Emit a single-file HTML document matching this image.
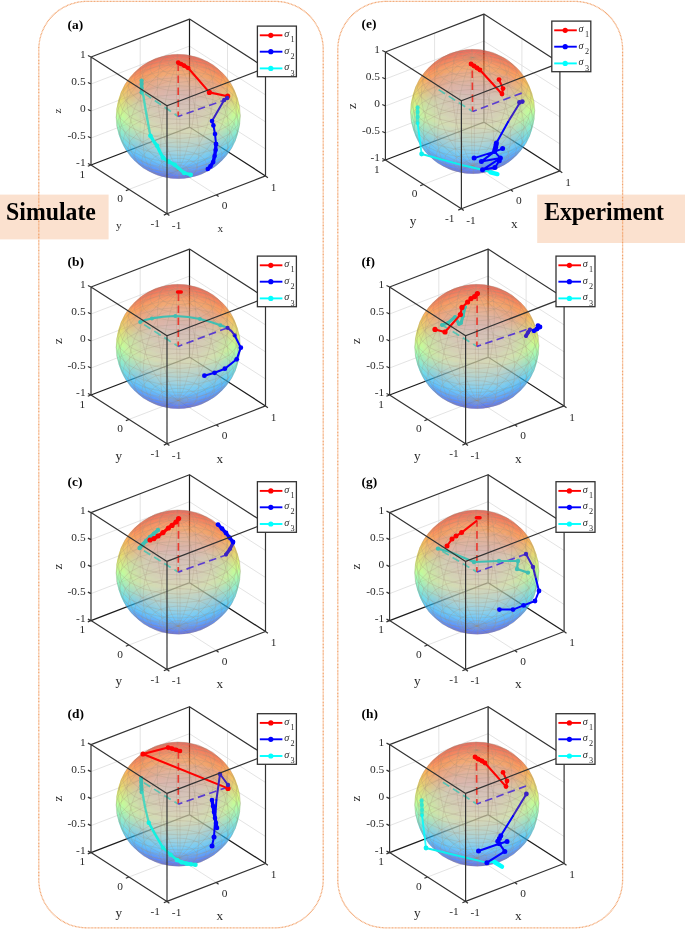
<!DOCTYPE html>
<html><head><meta charset="utf-8"><title>Bloch spheres</title>
<style>html,body{margin:0;padding:0;background:#fff;}body{width:685px;height:929px;overflow:hidden;font-family:"Liberation Serif",serif;}svg{display:block}text{font-family:"Liberation Serif",serif}</style></head>
<body>
<svg width="685" height="929" viewBox="0 0 685 929" font-family="Liberation Serif">
<defs><clipPath id="cp"><circle cx="87.2" cy="59.5" r="62.2"/></clipPath><filter id="bl" x="-10%" y="-10%" width="120%" height="120%"><feGaussianBlur stdDeviation="0.9"/></filter><radialGradient id="wg" gradientUnits="userSpaceOnUse" cx="87.2" cy="59.5" r="62.2"><stop offset="0" stop-color="#fff" stop-opacity="0.36"/><stop offset="0.55" stop-color="#fff" stop-opacity="0.27"/><stop offset="0.97" stop-color="#fff" stop-opacity="0"/></radialGradient><g id="sph"><g clip-path="url(#cp)"><g filter="url(#bl)" fill-opacity="0.42"><path d="M102.9 62.5L85.6 61.4L85.6 56.3L103.6 57.4Z" fill="#0085ff"/><path d="M102.1 67.6L85.7 66.5L85.6 61.4L102.9 62.5Z" fill="#0063ff"/><path d="M103.6 57.4L85.6 56.3L85.5 51.2L104.2 52.4Z" fill="#00a9ff"/><path d="M85.6 61.4L68.5 63.1L67.7 58L85.6 56.3Z" fill="#0085ff"/><path d="M85.7 66.5L69.5 68.1L68.5 63.1L85.6 61.4Z" fill="#0063ff"/><path d="M101.2 72.6L85.8 71.6L85.7 66.5L102.1 67.6Z" fill="#0043ff"/><path d="M85.6 56.3L67.7 58L67 53L85.5 51.2Z" fill="#00a9ff"/><path d="M85.8 71.6L70.5 73.1L69.5 68.1L85.7 66.5Z" fill="#0043ff"/><path d="M104.2 52.4L85.5 51.2L85.5 46.1L104.7 47.3Z" fill="#00ceff"/><path d="M100.2 77.5L85.9 76.6L85.8 71.6L101.2 72.6Z" fill="#0025ff"/><path d="M85.5 51.2L67 53L66.4 48L85.5 46.1Z" fill="#00ceff"/><path d="M85.9 76.6L71.7 78L70.5 73.1L85.8 71.6Z" fill="#0025ff"/><path d="M104.7 47.3L85.5 46.1L85.4 41.2L105.1 42.4Z" fill="#00f4ff"/><path d="M85.5 46.1L66.4 48L65.9 43L85.4 41.2Z" fill="#00f4ff"/><path d="M99.2 82.3L86 81.5L85.9 76.6L100.2 77.5Z" fill="#0008ff"/><path d="M86 81.5L73 82.7L71.7 78L85.9 76.6Z" fill="#0008ff"/><path d="M105.1 42.4L85.4 41.2L85.4 36.3L105.4 37.5Z" fill="#1cffe3"/><path d="M85.4 41.2L65.9 43L65.6 38.2L85.4 36.3Z" fill="#1cffe3"/><path d="M117.1 71.1L102.1 67.6L102.9 62.5L118.7 66.2Z" fill="#0063ff"/><path d="M118.7 66.2L102.9 62.5L103.6 57.4L120.1 61.3Z" fill="#0085ff"/><path d="M98.1 87L86.1 86.3L86 81.5L99.2 82.3Z" fill="#0000ed"/><path d="M115.3 75.9L101.2 72.6L102.1 67.6L117.1 71.1Z" fill="#0043ff"/><path d="M86.1 86.3L74.3 87.4L73 82.7L86 81.5Z" fill="#0000ed"/><path d="M120.1 61.3L103.6 57.4L104.2 52.4L121.3 56.4Z" fill="#00a9ff"/><path d="M113.3 80.6L100.2 77.5L101.2 72.6L115.3 75.9Z" fill="#0025ff"/><path d="M69.5 68.1L55 72.1L53.2 67.2L68.5 63.1Z" fill="#0063ff"/><path d="M105.4 37.5L85.4 36.3L85.4 31.6L105.6 32.8Z" fill="#44ffbb"/><path d="M68.5 63.1L53.2 67.2L51.7 62.4L67.7 58Z" fill="#0085ff"/><path d="M70.5 73.1L56.9 76.8L55 72.1L69.5 68.1Z" fill="#0043ff"/><path d="M121.3 56.4L104.2 52.4L104.7 47.3L122.3 51.4Z" fill="#00ceff"/><path d="M85.4 36.3L65.6 38.2L65.4 33.5L85.4 31.6Z" fill="#44ffbb"/><path d="M67.7 58L51.7 62.4L50.4 57.5L67 53Z" fill="#00a9ff"/><path d="M71.7 78L59 81.4L56.9 76.8L70.5 73.1Z" fill="#0025ff"/><path d="M111.2 85.1L99.2 82.3L100.2 77.5L113.3 80.6Z" fill="#0008ff"/><path d="M96.9 91.5L86.3 90.9L86.1 86.3L98.1 87Z" fill="#0000e6"/><path d="M86.3 90.9L75.8 91.9L74.3 87.4L86.1 86.3Z" fill="#0000e6"/><path d="M122.3 51.4L104.7 47.3L105.1 42.4L123.1 46.6Z" fill="#00f4ff"/><path d="M67 53L50.4 57.5L49.3 52.6L66.4 48Z" fill="#00ceff"/><path d="M73 82.7L61.3 85.9L59 81.4L71.7 78Z" fill="#0008ff"/><path d="M108.9 89.5L98.1 87L99.2 82.3L111.2 85.1Z" fill="#0000ed"/><path d="M105.6 32.8L85.4 31.6L85.4 27L105.6 28.3Z" fill="#6bff94"/><path d="M85.4 31.6L65.4 33.5L65.3 28.9L85.4 27Z" fill="#6bff94"/><path d="M66.4 48L49.3 52.6L48.5 47.8L65.9 43Z" fill="#00f4ff"/><path d="M74.3 87.4L63.8 90.3L61.3 85.9L73 82.7Z" fill="#0000ed"/><path d="M123.1 46.6L105.1 42.4L105.4 37.5L123.6 41.8Z" fill="#1cffe3"/><path d="M95.6 95.8L86.4 95.3L86.3 90.9L96.9 91.5Z" fill="#0000e6"/><path d="M86.4 95.3L77.3 96.1L75.8 91.9L86.3 90.9Z" fill="#0000e6"/><path d="M106.5 93.8L96.9 91.5L98.1 87L108.9 89.5Z" fill="#0000e6"/><path d="M65.9 43L48.5 47.8L47.8 43L65.6 38.2Z" fill="#1cffe3"/><path d="M75.8 91.9L66.4 94.4L63.8 90.3L74.3 87.4Z" fill="#0000e6"/><path d="M105.6 28.3L85.4 27L85.4 22.7L105.6 23.9Z" fill="#94ff6b"/><path d="M123.6 41.8L105.4 37.5L105.6 32.8L124 37.1Z" fill="#44ffbb"/><path d="M85.4 27L65.3 28.9L65.4 24.6L85.4 22.7Z" fill="#94ff6b"/><path d="M104 97.8L95.6 95.8L96.9 91.5L106.5 93.8Z" fill="#0000e6"/><path d="M94.3 99.9L86.5 99.4L86.4 95.3L95.6 95.8Z" fill="#0000e6"/><path d="M86.5 99.4L78.8 100.2L77.3 96.1L86.4 95.3Z" fill="#0000e6"/><path d="M65.6 38.2L47.8 43L47.5 38.4L65.4 33.5Z" fill="#44ffbb"/><path d="M77.3 96.1L69.1 98.3L66.4 94.4L75.8 91.9Z" fill="#0000e6"/><path d="M126.6 81.1L115.3 75.9L117.1 71.1L129.1 76.7Z" fill="#0043ff"/><path d="M123.8 85.5L113.3 80.6L115.3 75.9L126.6 81.1Z" fill="#0025ff"/><path d="M129.1 76.7L117.1 71.1L118.7 66.2L131.3 72.1Z" fill="#0063ff"/><path d="M124 37.1L105.6 32.8L105.6 28.3L124.1 32.6Z" fill="#6bff94"/><path d="M120.8 89.6L111.2 85.1L113.3 80.6L123.8 85.5Z" fill="#0008ff"/><path d="M131.3 72.1L118.7 66.2L120.1 61.3L133.3 67.5Z" fill="#0085ff"/><path d="M105.6 23.9L85.4 22.7L85.4 18.6L105.4 19.8Z" fill="#bbff44"/><path d="M101.4 101.6L94.3 99.9L95.6 95.8L104 97.8Z" fill="#0000e6"/><path d="M117.6 93.6L108.9 89.5L111.2 85.1L120.8 89.6Z" fill="#0000ed"/><path d="M85.4 22.7L65.4 24.6L65.6 20.4L85.4 18.6Z" fill="#bbff44"/><path d="M133.3 67.5L120.1 61.3L121.3 56.4L135 62.8Z" fill="#00a9ff"/><path d="M56.9 76.8L46.2 82.4L43.6 78L55 72.1Z" fill="#0043ff"/><path d="M59 81.4L49.1 86.7L46.2 82.4L56.9 76.8Z" fill="#0025ff"/><path d="M65.4 33.5L47.5 38.4L47.4 33.8L65.3 28.9Z" fill="#6bff94"/><path d="M78.8 100.2L72 102L69.1 98.3L77.3 96.1Z" fill="#0000e6"/><path d="M55 72.1L43.6 78L41.3 73.5L53.2 67.2Z" fill="#0063ff"/><path d="M61.3 85.9L52.2 90.7L49.1 86.7L59 81.4Z" fill="#0008ff"/><path d="M92.9 103.7L86.7 103.4L86.5 99.4L94.3 99.9Z" fill="#0000e6"/><path d="M114.3 97.4L106.5 93.8L108.9 89.5L117.6 93.6Z" fill="#0000e6"/><path d="M86.7 103.4L80.5 103.9L78.8 100.2L86.5 99.4Z" fill="#0000e6"/><path d="M53.2 67.2L41.3 73.5L39.2 69L51.7 62.4Z" fill="#0085ff"/><path d="M63.8 90.3L55.6 94.6L52.2 90.7L61.3 85.9Z" fill="#0000ed"/><path d="M135 62.8L121.3 56.4L122.3 51.4L136.4 58Z" fill="#00ceff"/><path d="M124.1 32.6L105.6 28.3L105.6 23.9L124 28.2Z" fill="#94ff6b"/><path d="M51.7 62.4L39.2 69L37.4 64.3L50.4 57.5Z" fill="#00a9ff"/><path d="M66.4 94.4L59.1 98.3L55.6 94.6L63.8 90.3Z" fill="#0000e6"/><path d="M110.7 100.9L104 97.8L106.5 93.8L114.3 97.4Z" fill="#0000e6"/><path d="M98.6 105.1L92.9 103.7L94.3 99.9L101.4 101.6Z" fill="#0000e6"/><path d="M105.4 19.8L85.4 18.6L85.4 14.7L105.1 15.9Z" fill="#e3ff1c"/><path d="M136.4 58L122.3 51.4L123.1 46.6L137.5 53.3Z" fill="#00f4ff"/><path d="M65.3 28.9L47.4 33.8L47.5 29.5L65.4 24.6Z" fill="#94ff6b"/><path d="M80.5 103.9L74.9 105.5L72 102L78.8 100.2Z" fill="#0000e6"/><path d="M85.4 18.6L65.6 20.4L65.9 16.5L85.4 14.7Z" fill="#e3ff1c"/><path d="M50.4 57.5L37.4 64.3L36 59.6L49.3 52.6Z" fill="#00ceff"/><path d="M69.1 98.3L62.8 101.7L59.1 98.3L66.4 94.4Z" fill="#0000e6"/><path d="M107 104.2L101.4 101.6L104 97.8L110.7 100.9Z" fill="#0000e6"/><path d="M91.5 107.3L86.8 107L86.7 103.4L92.9 103.7Z" fill="#0000e6"/><path d="M86.8 107L82.1 107.5L80.5 103.9L86.7 103.4Z" fill="#0000e6"/><path d="M124 28.2L105.6 23.9L105.4 19.8L123.6 24.1Z" fill="#bbff44"/><path d="M137.5 53.3L123.1 46.6L123.6 41.8L138.3 48.7Z" fill="#1cffe3"/><path d="M49.3 52.6L36 59.6L34.8 55L48.5 47.8Z" fill="#00f4ff"/><path d="M72 102L66.6 104.9L62.8 101.7L69.1 98.3Z" fill="#0000e6"/><path d="M95.9 108.3L91.5 107.3L92.9 103.7L98.6 105.1Z" fill="#0000e6"/><path d="M65.4 24.6L47.5 29.5L47.8 25.3L65.6 20.4Z" fill="#bbff44"/><path d="M82.1 107.5L77.9 108.6L74.9 105.5L80.5 103.9Z" fill="#0000e6"/><path d="M103.2 107.2L98.6 105.1L101.4 101.6L107 104.2Z" fill="#0000e6"/><path d="M105.1 15.9L85.4 14.7L85.5 11.1L104.7 12.3Z" fill="#fff400"/><path d="M48.5 47.8L34.8 55L34 50.3L47.8 43Z" fill="#1cffe3"/><path d="M138.3 48.7L123.6 41.8L124 37.1L138.8 44.1Z" fill="#44ffbb"/><path d="M85.4 14.7L65.9 16.5L66.4 12.9L85.5 11.1Z" fill="#fff400"/><path d="M74.9 105.5L70.6 107.7L66.6 104.9L72 102Z" fill="#0000e6"/><path d="M123.6 24.1L105.4 19.8L105.1 15.9L123.1 20.1Z" fill="#e3ff1c"/><path d="M90.1 110.6L87 110.4L86.8 107L91.5 107.3Z" fill="#0000e6"/><path d="M87 110.4L83.8 110.7L82.1 107.5L86.8 107Z" fill="#0000e6"/><path d="M99.3 109.9L95.9 108.3L98.6 105.1L103.2 107.2Z" fill="#0000e6"/><path d="M123.4 98.9L117.6 93.6L120.8 89.6L127.2 95.4Z" fill="#0000ed"/><path d="M127.2 95.4L120.8 89.6L123.8 85.5L130.7 91.8Z" fill="#0008ff"/><path d="M47.8 43L34 50.3L33.5 45.7L47.5 38.4Z" fill="#44ffbb"/><path d="M119.4 102L114.3 97.4L117.6 93.6L123.4 98.9Z" fill="#0000e6"/><path d="M77.9 108.6L74.7 110.3L70.6 107.7L74.9 105.5Z" fill="#0000e6"/><path d="M93 111.3L90.1 110.6L91.5 107.3L95.9 108.3Z" fill="#0000e6"/><path d="M65.6 20.4L47.8 25.3L48.5 21.3L65.9 16.5Z" fill="#e3ff1c"/><path d="M138.8 44.1L124 37.1L124.1 32.6L139 39.6Z" fill="#6bff94"/><path d="M130.7 91.8L123.8 85.5L126.6 81.1L134 87.9Z" fill="#0025ff"/><path d="M83.8 110.7L81 111.4L77.9 108.6L82.1 107.5Z" fill="#0000e6"/><path d="M115.2 105L110.7 100.9L114.3 97.4L119.4 102Z" fill="#0000e6"/><path d="M134 87.9L126.6 81.1L129.1 76.7L137 83.9Z" fill="#0043ff"/><path d="M110.8 107.6L107 104.2L110.7 100.9L115.2 105Z" fill="#0000e6"/><path d="M104.7 12.3L85.5 11.1L85.5 7.8L104.2 9Z" fill="#ffce00"/><path d="M55.6 94.6L50.4 100L46.5 96.7L52.2 90.7Z" fill="#0000ed"/><path d="M59.1 98.3L54.5 103.1L50.4 100L55.6 94.6Z" fill="#0000e6"/><path d="M137 83.9L129.1 76.7L131.3 72.1L139.7 79.7Z" fill="#0063ff"/><path d="M52.2 90.7L46.5 96.7L42.9 93.2L49.1 86.7Z" fill="#0008ff"/><path d="M62.8 101.7L58.8 105.9L54.5 103.1L59.1 98.3Z" fill="#0000e6"/><path d="M85.5 11.1L66.4 12.9L67 9.6L85.5 7.8Z" fill="#ffce00"/><path d="M95.3 112.3L93 111.3L95.9 108.3L99.3 109.9Z" fill="#0000e6"/><path d="M106.3 110L103.2 107.2L107 104.2L110.8 107.6Z" fill="#0000e6"/><path d="M49.1 86.7L42.9 93.2L39.6 89.4L46.2 82.4Z" fill="#0025ff"/><path d="M66.6 104.9L63.3 108.4L58.8 105.9L62.8 101.7Z" fill="#0000e6"/><path d="M47.5 38.4L33.5 45.7L33.3 41.2L47.4 33.8Z" fill="#6bff94"/><path d="M123.1 20.1L105.1 15.9L104.7 12.3L122.3 16.4Z" fill="#fff400"/><path d="M81 111.4L78.8 112.6L74.7 110.3L77.9 108.6Z" fill="#0000e6"/><path d="M139.7 79.7L131.3 72.1L133.3 67.5L142.1 75.4Z" fill="#0085ff"/><path d="M139 39.6L124.1 32.6L124 28.2L138.8 35.2Z" fill="#94ff6b"/><path d="M46.2 82.4L39.6 89.4L36.5 85.5L43.6 78Z" fill="#0043ff"/><path d="M70.6 107.7L67.9 110.6L63.3 108.4L66.6 104.9Z" fill="#0000e6"/><path d="M88.7 113.5L87.1 113.4L87 110.4L90.1 110.6Z" fill="#0000e6"/><path d="M87.1 113.4L85.5 113.6L83.8 110.7L87 110.4Z" fill="#0000e6"/><path d="M101.6 112L99.3 109.9L103.2 107.2L106.3 110Z" fill="#0000e6"/><path d="M65.9 16.5L48.5 21.3L49.3 17.6L66.4 12.9Z" fill="#fff400"/><path d="M90.1 113.9L88.7 113.5L90.1 110.6L93 111.3Z" fill="#0000e6"/><path d="M85.5 113.6L84.1 114L81 111.4L83.8 110.7Z" fill="#0000e6"/><path d="M43.6 78L36.5 85.5L33.8 81.4L41.3 73.5Z" fill="#0063ff"/><path d="M74.7 110.3L72.6 112.5L67.9 110.6L70.6 107.7Z" fill="#0000e6"/><path d="M142.1 75.4L133.3 67.5L135 62.8L144.1 71Z" fill="#00a9ff"/><path d="M96.9 113.7L95.3 112.3L99.3 109.9L101.6 112Z" fill="#0000e6"/><path d="M91.3 114.4L90.1 113.9L93 111.3L95.3 112.3Z" fill="#0000e6"/><path d="M47.4 33.8L33.3 41.2L33.5 36.8L47.5 29.5Z" fill="#94ff6b"/><path d="M84.1 114L83 114.5L78.8 112.6L81 111.4Z" fill="#0000e6"/><path d="M41.3 73.5L33.8 81.4L31.4 77.1L39.2 69Z" fill="#0085ff"/><path d="M78.8 112.6L77.4 114L72.6 112.5L74.7 110.3Z" fill="#0000e6"/><path d="M104.2 9L85.5 7.8L85.6 4.8L103.6 5.9Z" fill="#ffa900"/><path d="M138.8 35.2L124 28.2L123.6 24.1L138.3 30.9Z" fill="#bbff44"/><path d="M144.1 71L135 62.8L136.4 58L145.8 66.5Z" fill="#00ceff"/><path d="M85.5 7.8L67 9.6L67.7 6.5L85.6 4.8Z" fill="#ffa900"/><path d="M122.3 16.4L104.7 12.3L104.2 9L121.3 13Z" fill="#ffce00"/><path d="M92.1 115.1L91.3 114.4L95.3 112.3L96.9 113.7Z" fill="#0000e6"/><path d="M39.2 69L31.4 77.1L29.3 72.8L37.4 64.3Z" fill="#00a9ff"/><path d="M83 114.5L82.3 115.3L77.4 114L78.8 112.6Z" fill="#0000e6"/><path d="M87.2 116.2L87.1 113.4L88.7 113.5Z" fill="#0000e6"/><path d="M87.2 116.2L85.5 113.6L87.1 113.4Z" fill="#0000e6"/><path d="M66.4 12.9L49.3 17.6L50.4 14.1L67 9.6Z" fill="#ffce00"/><path d="M87.2 116.2L88.7 113.5L90.1 113.9Z" fill="#0000e6"/><path d="M87.2 116.2L84.1 114L85.5 113.6Z" fill="#0000e6"/><path d="M145.8 66.5L136.4 58L137.5 53.3L147.1 62Z" fill="#00f4ff"/><path d="M47.5 29.5L33.5 36.8L34 32.6L47.8 25.3Z" fill="#bbff44"/><path d="M87.2 116.2L90.1 113.9L91.3 114.4Z" fill="#0000e6"/><path d="M102.5 114.3L101.6 112L106.3 110L107.4 113.1Z" fill="#0000e6"/><path d="M107.4 113.1L106.3 110L110.8 107.6L112.2 111.4Z" fill="#0000e6"/><path d="M87.2 116.2L83 114.5L84.1 114Z" fill="#0000e6"/><path d="M97.5 115.3L96.9 113.7L101.6 112L102.5 114.3Z" fill="#0000e6"/><path d="M112.2 111.4L110.8 107.6L115.2 105L116.9 109.5Z" fill="#0000e6"/><path d="M37.4 64.3L29.3 72.8L27.6 68.4L36 59.6Z" fill="#00ceff"/><path d="M87.2 116.2L91.3 114.4L92.1 115.1Z" fill="#0000e6"/><path d="M92.4 115.9L92.1 115.1L96.9 113.7L97.5 115.3Z" fill="#0000e6"/><path d="M87.2 116.2L82.3 115.3L83 114.5Z" fill="#0000e6"/><path d="M116.9 109.5L115.2 105L119.4 102L121.4 107.3Z" fill="#0000e6"/><path d="M77.4 114L77 115.6L72 114.8L72.6 112.5Z" fill="#0000e6"/><path d="M72.6 112.5L72 114.8L67.1 113.7L67.9 110.6Z" fill="#0000e6"/><path d="M138.3 30.9L123.6 24.1L123.1 20.1L137.5 26.9Z" fill="#e3ff1c"/><path d="M82.3 115.3L82.1 116.1L77 115.6L77.4 114Z" fill="#0000e6"/><path d="M67.9 110.6L67.1 113.7L62.3 112.2L63.3 108.4Z" fill="#0000e6"/><path d="M87.2 116.2L92.1 115.1L92.4 115.9Z" fill="#0000e6"/><path d="M87.2 116.2L82.1 116.1L82.3 115.3Z" fill="#0000e6"/><path d="M121.4 107.3L119.4 102L123.4 98.9L125.6 104.7Z" fill="#0000e6"/><path d="M63.3 108.4L62.3 112.2L57.6 110.4L58.8 105.9Z" fill="#0000e6"/><path d="M147.1 62L137.5 53.3L138.3 48.7L148 57.4Z" fill="#1cffe3"/><path d="M103.6 5.9L85.6 4.8L85.6 2.2L102.9 3.3Z" fill="#ff8500"/><path d="M87.2 116.2L92.4 115.9L92.2 116.7Z" fill="#0000e6"/><path d="M87.2 116.2L82.4 116.8L82.1 116.1Z" fill="#0000e6"/><path d="M121.3 13L104.2 9L103.6 5.9L120.1 9.8Z" fill="#ffa900"/><path d="M58.8 105.9L57.6 110.4L53.1 108.3L54.5 103.1Z" fill="#0000e6"/><path d="M36 59.6L27.6 68.4L26.3 63.9L34.8 55Z" fill="#00f4ff"/><path d="M85.6 4.8L67.7 6.5L68.5 3.8L85.6 2.2Z" fill="#ff8500"/><path d="M125.6 104.7L123.4 98.9L127.2 95.4L129.7 101.9Z" fill="#0000ed"/><path d="M87.2 116.2L92.2 116.7L91.5 117.4Z" fill="#0000e6"/><path d="M87.2 116.2L83.2 117.5L82.4 116.8Z" fill="#0000e6"/><path d="M92.2 116.7L92.4 115.9L97.5 115.3L97.1 116.9Z" fill="#0000e6"/><path d="M47.8 25.3L34 32.6L34.8 28.5L48.5 21.3Z" fill="#e3ff1c"/><path d="M82.1 116.1L82.4 116.8L77.6 117.2L77 115.6Z" fill="#0000e6"/><path d="M54.5 103.1L53.1 108.3L48.9 105.9L50.4 100Z" fill="#0000e6"/><path d="M87.2 116.2L91.5 117.4L90.4 118Z" fill="#0000e6"/><path d="M87.2 116.2L84.4 118.1L83.2 117.5Z" fill="#0000e6"/><path d="M67 9.6L50.4 14.1L51.7 10.9L67.7 6.5Z" fill="#ffa900"/><path d="M129.7 101.9L127.2 95.4L130.7 91.8L133.4 98.8Z" fill="#0008ff"/><path d="M87.2 116.2L90.4 118L89 118.4Z" fill="#0000e6"/><path d="M87.2 116.2L85.8 118.4L84.4 118.1Z" fill="#0000e6"/><path d="M97.1 116.9L97.5 115.3L102.5 114.3L101.9 116.7Z" fill="#0000e6"/><path d="M87.2 116.2L89 118.4L87.4 118.5Z" fill="#0000e6"/><path d="M87.2 116.2L87.4 118.5L85.8 118.4Z" fill="#0000e6"/><path d="M148 57.4L138.3 48.7L138.8 44.1L148.6 52.9Z" fill="#44ffbb"/><path d="M50.4 100L48.9 105.9L44.8 103.2L46.5 96.7Z" fill="#0000ed"/><path d="M137.5 26.9L123.1 20.1L122.3 16.4L136.4 23Z" fill="#fff400"/><path d="M77 115.6L77.6 117.2L72.9 117.2L72 114.8Z" fill="#0000e6"/><path d="M34.8 55L26.3 63.9L25.3 59.4L34 50.3Z" fill="#1cffe3"/><path d="M133.4 98.8L130.7 91.8L134 87.9L136.9 95.5Z" fill="#0025ff"/><path d="M91.5 117.4L92.2 116.7L97.1 116.9L95.7 118.3Z" fill="#0000e6"/><path d="M101.9 116.7L102.5 114.3L107.4 113.1L106.6 116.2Z" fill="#0000e6"/><path d="M82.4 116.8L83.2 117.5L79.2 118.6L77.6 117.2Z" fill="#0000e6"/><path d="M46.5 96.7L44.8 103.2L41.1 100.3L42.9 93.2Z" fill="#0008ff"/><path d="M72 114.8L72.9 117.2L68.2 116.8L67.1 113.7Z" fill="#0000e6"/><path d="M136.9 95.5L134 87.9L137 83.9L140.1 91.9Z" fill="#0043ff"/><path d="M48.5 21.3L34.8 28.5L36 24.6L49.3 17.6Z" fill="#fff400"/><path d="M106.6 116.2L107.4 113.1L112.2 111.4L111.2 115.3Z" fill="#0000e6"/><path d="M120.1 9.8L103.6 5.9L102.9 3.3L118.7 6.9Z" fill="#ff8500"/><path d="M148.6 52.9L138.8 44.1L139 39.6L148.8 48.4Z" fill="#6bff94"/><path d="M102.9 3.3L85.6 2.2L85.7 -0.1L102.1 0.9Z" fill="#ff6300"/><path d="M90.4 118L91.5 117.4L95.7 118.3L93.5 119.5Z" fill="#0000e6"/><path d="M34 50.3L25.3 59.4L24.8 54.9L33.5 45.7Z" fill="#44ffbb"/><path d="M83.2 117.5L84.4 118.1L81.5 119.7L79.2 118.6Z" fill="#0000e6"/><path d="M85.6 2.2L68.5 3.8L69.5 1.4L85.7 -0.1Z" fill="#ff6300"/><path d="M42.9 93.2L41.1 100.3L37.6 97.1L39.6 89.4Z" fill="#0025ff"/><path d="M95.7 118.3L97.1 116.9L101.9 116.7L99.8 118.8Z" fill="#0000e6"/><path d="M67.1 113.7L68.2 116.8L63.7 116L62.3 112.2Z" fill="#0000e6"/><path d="M67.7 6.5L51.7 10.9L53.2 8L68.5 3.8Z" fill="#ff8500"/><path d="M77.6 117.2L79.2 118.6L75.2 119.2L72.9 117.2Z" fill="#0000e6"/><path d="M136.4 23L122.3 16.4L121.3 13L135 19.4Z" fill="#ffce00"/><path d="M89 118.4L90.4 118L93.5 119.5L90.7 120.2Z" fill="#0000e6"/><path d="M140.1 91.9L137 83.9L139.7 79.7L142.9 88.2Z" fill="#0063ff"/><path d="M111.2 115.3L112.2 111.4L116.9 109.5L115.7 114.1Z" fill="#0000e6"/><path d="M84.4 118.1L85.8 118.4L84.4 120.3L81.5 119.7Z" fill="#0000e6"/><path d="M87.4 118.5L89 118.4L90.7 120.2L87.5 120.5Z" fill="#0000e6"/><path d="M39.6 89.4L37.6 97.1L34.4 93.6L36.5 85.5Z" fill="#0043ff"/><path d="M85.8 118.4L87.4 118.5L87.5 120.5L84.4 120.3Z" fill="#0000e6"/><path d="M62.3 112.2L63.7 116L59.3 115L57.6 110.4Z" fill="#0000e6"/><path d="M148.8 48.4L139 39.6L138.8 35.2L148.6 44Z" fill="#94ff6b"/><path d="M33.5 45.7L24.8 54.9L24.6 50.4L33.3 41.2Z" fill="#6bff94"/><path d="M115.7 114.1L116.9 109.5L121.4 107.3L120 112.5Z" fill="#0000e6"/><path d="M99.8 118.8L101.9 116.7L106.6 116.2L103.9 119Z" fill="#0000e6"/><path d="M142.9 88.2L139.7 79.7L142.1 75.4L145.4 84.3Z" fill="#0085ff"/><path d="M49.3 17.6L36 24.6L37.4 20.9L50.4 14.1Z" fill="#ffce00"/><path d="M93.5 119.5L95.7 118.3L99.8 118.8L96.6 120.6Z" fill="#0000e6"/><path d="M36.5 85.5L34.4 93.6L31.6 90L33.8 81.4Z" fill="#0063ff"/><path d="M72.9 117.2L75.2 119.2L71.3 119.5L68.2 116.8Z" fill="#0000e6"/><path d="M79.2 118.6L81.5 119.7L78.6 120.8L75.2 119.2Z" fill="#0000e6"/><path d="M118.7 6.9L102.9 3.3L102.1 0.9L117.1 4.4Z" fill="#ff6300"/><path d="M57.6 110.4L59.3 115L55.1 113.5L53.1 108.3Z" fill="#0000e6"/><path d="M102.1 0.9L85.7 -0.1L85.8 -2L101.2 -1.1Z" fill="#ff4300"/><path d="M135 19.4L121.3 13L120.1 9.8L133.3 16Z" fill="#ffa900"/><path d="M120 112.5L121.4 107.3L125.6 104.7L124.1 110.6Z" fill="#0000e6"/><path d="M85.7 -0.1L69.5 1.4L70.5 -0.6L85.8 -2Z" fill="#ff4300"/><path d="M145.4 84.3L142.1 75.4L144.1 71L147.6 80.2Z" fill="#00a9ff"/><path d="M33.3 41.2L24.6 50.4L24.8 46L33.5 36.8Z" fill="#94ff6b"/><path d="M68.5 3.8L53.2 8L55 5.4L69.5 1.4Z" fill="#ff6300"/><path d="M148.6 44L138.8 35.2L138.3 30.9L148 39.7Z" fill="#bbff44"/><path d="M90.7 120.2L93.5 119.5L96.6 120.6L92.4 121.7Z" fill="#0000e6"/><path d="M33.8 81.4L31.6 90L29.1 86.1L31.4 77.1Z" fill="#0085ff"/><path d="M103.9 119L106.6 116.2L111.2 115.3L107.9 118.8Z" fill="#0000e6"/><path d="M81.5 119.7L84.4 120.3L83 121.9L78.6 120.8Z" fill="#0000e6"/><path d="M53.1 108.3L55.1 113.5L51.1 111.8L48.9 105.9Z" fill="#0000e6"/><path d="M68.2 116.8L71.3 119.5L67.5 119.4L63.7 116Z" fill="#0000e6"/><path d="M87.5 120.5L90.7 120.2L92.4 121.7L87.7 122.2Z" fill="#0000e6"/><path d="M50.4 14.1L37.4 20.9L39.2 17.5L51.7 10.9Z" fill="#ffa900"/><path d="M84.4 120.3L87.5 120.5L87.7 122.2L83 121.9Z" fill="#0000e6"/><path d="M124.1 110.6L125.6 104.7L129.7 101.9L128 108.4Z" fill="#0000ed"/><path d="M96.6 120.6L99.8 118.8L103.9 119L99.6 121.3Z" fill="#0000e6"/><path d="M147.6 80.2L144.1 71L145.8 66.5L149.3 76Z" fill="#00ceff"/><path d="M75.2 119.2L78.6 120.8L75.9 121.7L71.3 119.5Z" fill="#0000e6"/><path d="M31.4 77.1L29.1 86.1L26.9 82.1L29.3 72.8Z" fill="#00a9ff"/><path d="M33.5 36.8L24.8 46L25.3 41.7L34 32.6Z" fill="#bbff44"/><path d="M148 39.7L138.3 30.9L137.5 26.9L147.1 35.5Z" fill="#e3ff1c"/><path d="M107.9 118.8L111.2 115.3L115.7 114.1L111.7 118.2Z" fill="#0000e6"/><path d="M133.3 16L120.1 9.8L118.7 6.9L131.3 12.9Z" fill="#ff8500"/><path d="M117.1 4.4L102.1 0.9L101.2 -1.1L115.3 2.2Z" fill="#ff4300"/><path d="M48.9 105.9L51.1 111.8L47.3 109.7L44.8 103.2Z" fill="#0000ed"/><path d="M128 108.4L129.7 101.9L133.4 98.8L131.6 105.9Z" fill="#0008ff"/><path d="M149.3 76L145.8 66.5L147.1 62L150.7 71.7Z" fill="#00f4ff"/><path d="M101.2 -1.1L85.8 -2L85.9 -3.6L100.2 -2.7Z" fill="#ff2500"/><path d="M63.7 116L67.5 119.4L63.8 119L59.3 115Z" fill="#0000e6"/><path d="M69.5 1.4L55 5.4L56.9 3.1L70.5 -0.6Z" fill="#ff4300"/><path d="M85.8 -2L70.5 -0.6L71.7 -2.2L85.9 -3.6Z" fill="#ff2500"/><path d="M29.3 72.8L26.9 82.1L25.2 78L27.6 68.4Z" fill="#00ceff"/><path d="M92.4 121.7L96.6 120.6L99.6 121.3L94 122.8Z" fill="#0000e6"/><path d="M78.6 120.8L83 121.9L81.6 123L75.9 121.7Z" fill="#0000e6"/><path d="M51.7 10.9L39.2 17.5L41.3 14.3L53.2 8Z" fill="#ff8500"/><path d="M99.6 121.3L103.9 119L107.9 118.8L102.5 121.6Z" fill="#0000e6"/><path d="M34 32.6L25.3 41.7L26.3 37.4L34.8 28.5Z" fill="#e3ff1c"/><path d="M44.8 103.2L47.3 109.7L43.8 107.3L41.1 100.3Z" fill="#0008ff"/><path d="M131.6 105.9L133.4 98.8L136.9 95.5L134.9 103.1Z" fill="#0025ff"/><path d="M147.1 35.5L137.5 26.9L136.4 23L145.8 31.5Z" fill="#fff400"/><path d="M111.7 118.2L115.7 114.1L120 112.5L115.4 117.3Z" fill="#0000e6"/><path d="M71.3 119.5L75.9 121.7L73.1 122.1L67.5 119.4Z" fill="#0000e6"/><path d="M87.7 122.2L92.4 121.7L94 122.8L87.8 123.4Z" fill="#0000e6"/><path d="M83 121.9L87.7 122.2L87.8 123.4L81.6 123Z" fill="#0000e6"/><path d="M150.7 71.7L147.1 62L148 57.4L151.7 67.3Z" fill="#1cffe3"/><path d="M27.6 68.4L25.2 78L23.8 73.7L26.3 63.9Z" fill="#00f4ff"/><path d="M131.3 12.9L118.7 6.9L117.1 4.4L129.1 10Z" fill="#ff6300"/><path d="M59.3 115L63.8 119L60.2 118.2L55.1 113.5Z" fill="#0000e6"/><path d="M115.3 2.2L101.2 -1.1L100.2 -2.7L113.3 0.4Z" fill="#ff2500"/><path d="M41.1 100.3L43.8 107.3L40.5 104.6L37.6 97.1Z" fill="#0025ff"/><path d="M134.9 103.1L136.9 95.5L140.1 91.9L138 100.1Z" fill="#0043ff"/><path d="M34.8 28.5L26.3 37.4L27.6 33.3L36 24.6Z" fill="#fff400"/><path d="M151.7 67.3L148 57.4L148.6 52.9L152.3 62.9Z" fill="#44ffbb"/><path d="M70.5 -0.6L56.9 3.1L59 1.2L71.7 -2.2Z" fill="#ff2500"/><path d="M53.2 8L41.3 14.3L43.6 11.4L55 5.4Z" fill="#ff6300"/><path d="M115.4 117.3L120 112.5L124.1 110.6L118.9 116Z" fill="#0000e6"/><path d="M145.8 31.5L136.4 23L135 19.4L144.1 27.6Z" fill="#ffce00"/><path d="M94 122.8L99.6 121.3L102.5 121.6L95.7 123.5Z" fill="#0000e6"/><path d="M100.2 -2.7L85.9 -3.6L86 -4.7L99.2 -3.9Z" fill="#ff0800"/><path d="M102.5 121.6L107.9 118.8L111.7 118.2L105.4 121.6Z" fill="#0000e6"/><path d="M26.3 63.9L23.8 73.7L22.8 69.3L25.3 59.4Z" fill="#1cffe3"/><path d="M85.9 -3.6L71.7 -2.2L73 -3.5L86 -4.7Z" fill="#ff0800"/><path d="M75.9 121.7L81.6 123L80.2 123.8L73.1 122.1Z" fill="#0000e6"/><path d="M67.5 119.4L73.1 122.1L70.5 122.2L63.8 119Z" fill="#0000e6"/><path d="M55.1 113.5L60.2 118.2L56.9 117L51.1 111.8Z" fill="#0000e6"/><path d="M37.6 97.1L40.5 104.6L37.5 101.7L34.4 93.6Z" fill="#0043ff"/><path d="M138 100.1L140.1 91.9L142.9 88.2L140.7 96.8Z" fill="#0063ff"/><path d="M87.8 123.4L94 122.8L95.7 123.5L88 124.2Z" fill="#0000e6"/><path d="M129.1 10L117.1 4.4L115.3 2.2L126.6 7.5Z" fill="#ff4300"/><path d="M81.6 123L87.8 123.4L88 124.2L80.2 123.8Z" fill="#0000e6"/><path d="M152.3 62.9L148.6 52.9L148.8 48.4L152.5 58.4Z" fill="#6bff94"/><path d="M36 24.6L27.6 33.3L29.3 29.4L37.4 20.9Z" fill="#ffce00"/><path d="M25.3 59.4L22.8 69.3L22.2 64.9L24.8 54.9Z" fill="#44ffbb"/><path d="M118.9 116L124.1 110.6L128 108.4L122.3 114.4Z" fill="#0000ed"/><path d="M144.1 27.6L135 19.4L133.3 16L142.1 23.9Z" fill="#ffa900"/><path d="M113.3 0.4L100.2 -2.7L99.2 -3.9L111.2 -1.1Z" fill="#ff0800"/><path d="M55 5.4L43.6 11.4L46.2 8.8L56.9 3.1Z" fill="#ff4300"/><path d="M105.4 121.6L111.7 118.2L115.4 117.3L108.1 121.2Z" fill="#0000e6"/><path d="M34.4 93.6L37.5 101.7L34.8 98.5L31.6 90Z" fill="#0063ff"/><path d="M140.7 96.8L142.9 88.2L145.4 84.3L143.1 93.2Z" fill="#0085ff"/><path d="M71.7 -2.2L59 1.2L61.3 -0.3L73 -3.5Z" fill="#ff0800"/><path d="M51.1 111.8L56.9 117L53.7 115.5L47.3 109.7Z" fill="#0000ed"/><path d="M95.7 123.5L102.5 121.6L105.4 121.6L97.2 123.8Z" fill="#0000e6"/><path d="M152.5 58.4L148.8 48.4L148.6 44L152.3 54Z" fill="#94ff6b"/><path d="M63.8 119L70.5 122.2L68 121.8L60.2 118.2Z" fill="#0000e6"/><path d="M99.2 -3.9L86 -4.7L86.1 -5.5L98.1 -4.7Z" fill="#ed0000"/><path d="M24.8 54.9L22.2 64.9L22 60.5L24.6 50.4Z" fill="#6bff94"/><path d="M73.1 122.1L80.2 123.8L78.9 124.1L70.5 122.2Z" fill="#0000e6"/><path d="M86 -4.7L73 -3.5L74.3 -4.4L86.1 -5.5Z" fill="#ed0000"/><path d="M37.4 20.9L29.3 29.4L31.4 25.7L39.2 17.5Z" fill="#ffa900"/><path d="M122.3 114.4L128 108.4L131.6 105.9L125.4 112.4Z" fill="#0008ff"/><path d="M126.6 7.5L115.3 2.2L113.3 0.4L123.8 5.3Z" fill="#ff2500"/><path d="M142.1 23.9L133.3 16L131.3 12.9L139.7 20.4Z" fill="#ff8500"/><path d="M31.6 90L34.8 98.5L32.4 95L29.1 86.1Z" fill="#0085ff"/><path d="M143.1 93.2L145.4 84.3L147.6 80.2L145.2 89.5Z" fill="#00a9ff"/><path d="M88 124.2L95.7 123.5L97.2 123.8L88.1 124.7Z" fill="#0000e6"/><path d="M80.2 123.8L88 124.2L88.1 124.7L78.9 124.1Z" fill="#0000e6"/><path d="M152.3 54L148.6 44L148 39.7L151.7 49.6Z" fill="#bbff44"/><path d="M56.9 3.1L46.2 8.8L49.1 6.5L59 1.2Z" fill="#ff2500"/><path d="M24.6 50.4L22 60.5L22.2 56L24.8 46Z" fill="#94ff6b"/><path d="M47.3 109.7L53.7 115.5L50.7 113.6L43.8 107.3Z" fill="#0008ff"/><path d="M108.1 121.2L115.4 117.3L118.9 116L110.7 120.4Z" fill="#0000e6"/><path d="M111.2 -1.1L99.2 -3.9L98.1 -4.7L108.9 -2.2Z" fill="#ed0000"/><path d="M39.2 17.5L31.4 25.7L33.8 22.1L41.3 14.3Z" fill="#ff8500"/><path d="M73 -3.5L61.3 -0.3L63.8 -1.5L74.3 -4.4Z" fill="#ed0000"/><path d="M60.2 118.2L68 121.8L65.6 121.1L56.9 117Z" fill="#0000e6"/><path d="M125.4 112.4L131.6 105.9L134.9 103.1L128.3 110.1Z" fill="#0025ff"/><path d="M97.2 123.8L105.4 121.6L108.1 121.2L98.7 123.7Z" fill="#0000e6"/><path d="M145.2 89.5L147.6 80.2L149.3 76L146.9 85.6Z" fill="#00ceff"/><path d="M29.1 86.1L32.4 95L30.4 91.3L26.9 82.1Z" fill="#00a9ff"/><path d="M139.7 20.4L131.3 12.9L129.1 10L137 17.2Z" fill="#ff6300"/><path d="M70.5 122.2L78.9 124.1L77.6 124.1L68 121.8Z" fill="#0000e6"/><path d="M98.1 -4.7L86.1 -5.5L86.3 -5.8L96.9 -5.2Z" fill="#e50000"/><path d="M151.7 49.6L148 39.7L147.1 35.5L150.7 45.2Z" fill="#e3ff1c"/><path d="M123.8 5.3L113.3 0.4L111.2 -1.1L120.8 3.4Z" fill="#ff0800"/><path d="M24.8 46L22.2 56L22.8 51.6L25.3 41.7Z" fill="#bbff44"/><path d="M86.1 -5.5L74.3 -4.4L75.8 -4.8L86.3 -5.8Z" fill="#e50000"/><path d="M43.8 107.3L50.7 113.6L47.9 111.4L40.5 104.6Z" fill="#0025ff"/><path d="M59 1.2L49.1 6.5L52.2 4.5L61.3 -0.3Z" fill="#ff0800"/><path d="M41.3 14.3L33.8 22.1L36.5 18.8L43.6 11.4Z" fill="#ff6300"/><path d="M146.9 85.6L149.3 76L150.7 71.7L148.2 81.5Z" fill="#00f4ff"/><path d="M110.7 120.4L118.9 116L122.3 114.4L113.2 119.2Z" fill="#0000ed"/><path d="M26.9 82.1L30.4 91.3L28.7 87.4L25.2 78Z" fill="#00ceff"/><path d="M88.1 124.7L97.2 123.8L98.7 123.7L88.2 124.7Z" fill="#0000e6"/><path d="M78.9 124.1L88.1 124.7L88.2 124.7L77.6 124.1Z" fill="#0000e6"/><path d="M128.3 110.1L134.9 103.1L138 100.1L130.9 107.5Z" fill="#0043ff"/><path d="M150.7 45.2L147.1 35.5L145.8 31.5L149.3 40.9Z" fill="#fff400"/><path d="M108.9 -2.2L98.1 -4.7L96.9 -5.2L106.5 -2.9Z" fill="#e50000"/><path d="M25.3 41.7L22.8 51.6L23.8 47.2L26.3 37.4Z" fill="#e3ff1c"/><path d="M137 17.2L129.1 10L126.6 7.5L134 14.3Z" fill="#ff4300"/><path d="M56.9 117L65.6 121.1L63.3 120L53.7 115.5Z" fill="#0000ed"/><path d="M74.3 -4.4L63.8 -1.5L66.4 -2.3L75.8 -4.8Z" fill="#e50000"/><path d="M98.7 123.7L108.1 121.2L110.7 120.4L100.2 123.3Z" fill="#0000e6"/><path d="M120.8 3.4L111.2 -1.1L108.9 -2.2L117.6 1.9Z" fill="#ed0000"/><path d="M40.5 104.6L47.9 111.4L45.4 108.9L37.5 101.7Z" fill="#0043ff"/><path d="M148.2 81.5L150.7 71.7L151.7 67.3L149.2 77.2Z" fill="#1cffe3"/><path d="M68 121.8L77.6 124.1L76.4 123.6L65.6 121.1Z" fill="#0000e6"/><path d="M25.2 78L28.7 87.4L27.4 83.4L23.8 73.7Z" fill="#00f4ff"/><path d="M43.6 11.4L36.5 18.8L39.6 15.8L46.2 8.8Z" fill="#ff4300"/><path d="M96.9 -5.2L86.3 -5.8L86.4 -5.8L95.6 -5.2Z" fill="#e50000"/><path d="M86.3 -5.8L75.8 -4.8L77.3 -4.9L86.4 -5.8Z" fill="#e50000"/><path d="M149.3 40.9L145.8 31.5L144.1 27.6L147.6 36.8Z" fill="#ffce00"/><path d="M61.3 -0.3L52.2 4.5L55.6 2.9L63.8 -1.5Z" fill="#ed0000"/><path d="M26.3 37.4L23.8 47.2L25.2 42.9L27.6 33.3Z" fill="#fff400"/><path d="M130.9 107.5L138 100.1L140.7 96.8L133.2 104.6Z" fill="#0063ff"/><path d="M113.2 119.2L122.3 114.4L125.4 112.4L115.5 117.7Z" fill="#0008ff"/><path d="M134 14.3L126.6 7.5L123.8 5.3L130.7 11.6Z" fill="#ff2500"/><path d="M88.2 124.7L98.7 123.7L100.2 123.3L88.4 124.4Z" fill="#0000e6"/><path d="M149.2 77.2L151.7 67.3L152.3 62.9L149.7 72.9Z" fill="#44ffbb"/><path d="M53.7 115.5L63.3 120L61.2 118.5L50.7 113.6Z" fill="#0008ff"/><path d="M23.8 73.7L27.4 83.4L26.5 79.2L22.8 69.3Z" fill="#1cffe3"/><path d="M77.6 124.1L88.2 124.7L88.4 124.4L76.4 123.6Z" fill="#0000e6"/><path d="M106.5 -2.9L96.9 -5.2L95.6 -5.2L104 -3.3Z" fill="#e50000"/><path d="M37.5 101.7L45.4 108.9L43.2 106L34.8 98.5Z" fill="#0063ff"/><path d="M147.6 36.8L144.1 27.6L142.1 23.9L145.4 32.8Z" fill="#ffa900"/><path d="M27.6 33.3L25.2 42.9L26.9 38.7L29.3 29.4Z" fill="#ffce00"/><path d="M75.8 -4.8L66.4 -2.3L69.1 -2.7L77.3 -4.9Z" fill="#e50000"/><path d="M46.2 8.8L39.6 15.8L42.9 13L49.1 6.5Z" fill="#ff2500"/><path d="M117.6 1.9L108.9 -2.2L106.5 -2.9L114.3 0.7Z" fill="#e50000"/><path d="M100.2 123.3L110.7 120.4L113.2 119.2L101.5 122.4Z" fill="#0000ed"/><path d="M133.2 104.6L140.7 96.8L143.1 93.2L135.3 101.4Z" fill="#0085ff"/><path d="M65.6 121.1L76.4 123.6L75.3 122.8L63.3 120Z" fill="#0000ed"/><path d="M63.8 -1.5L55.6 2.9L59.1 1.6L66.4 -2.3Z" fill="#e50000"/><path d="M130.7 11.6L123.8 5.3L120.8 3.4L127.2 9.2Z" fill="#ff0800"/><path d="M149.7 72.9L152.3 62.9L152.5 58.4L149.9 68.5Z" fill="#6bff94"/><path d="M115.5 117.7L125.4 112.4L128.3 110.1L117.6 115.8Z" fill="#0025ff"/><path d="M22.8 69.3L26.5 79.2L25.9 74.9L22.2 64.9Z" fill="#44ffbb"/><path d="M95.6 -5.2L86.4 -5.8L86.5 -5.3L94.3 -4.9Z" fill="#e50000"/><path d="M86.4 -5.8L77.3 -4.9L78.8 -4.6L86.5 -5.3Z" fill="#e50000"/><path d="M29.3 29.4L26.9 38.7L29.1 34.6L31.4 25.7Z" fill="#ffa900"/><path d="M145.4 32.8L142.1 23.9L139.7 20.4L142.9 28.9Z" fill="#ff8500"/><path d="M34.8 98.5L43.2 106L41.2 102.9L32.4 95Z" fill="#0085ff"/><path d="M50.7 113.6L61.2 118.5L59.2 116.7L47.9 111.4Z" fill="#0025ff"/><path d="M49.1 6.5L42.9 13L46.5 10.5L52.2 4.5Z" fill="#ff0800"/><path d="M135.3 101.4L143.1 93.2L145.2 89.5L137.1 98Z" fill="#00a9ff"/><path d="M88.4 124.4L100.2 123.3L101.5 122.4L88.5 123.6Z" fill="#0000ed"/><path d="M104 -3.3L95.6 -5.2L94.3 -4.9L101.4 -3.2Z" fill="#e50000"/><path d="M149.9 68.5L152.5 58.4L152.3 54L149.7 64Z" fill="#94ff6b"/><path d="M76.4 123.6L88.4 124.4L88.5 123.6L75.3 122.8Z" fill="#0000ed"/><path d="M114.3 0.7L106.5 -2.9L104 -3.3L110.7 -0.1Z" fill="#e50000"/><path d="M22.2 64.9L25.9 74.9L25.7 70.5L22 60.5Z" fill="#6bff94"/><path d="M77.3 -4.9L69.1 -2.7L72 -2.7L78.8 -4.6Z" fill="#e50000"/><path d="M127.2 9.2L120.8 3.4L117.6 1.9L123.4 7.1Z" fill="#ed0000"/><path d="M101.5 122.4L113.2 119.2L115.5 117.7L102.8 121.1Z" fill="#0008ff"/><path d="M31.4 25.7L29.1 34.6L31.6 30.7L33.8 22.1Z" fill="#ff8500"/><path d="M142.9 28.9L139.7 20.4L137 17.2L140.1 25.3Z" fill="#ff6300"/><path d="M66.4 -2.3L59.1 1.6L62.8 0.7L69.1 -2.7Z" fill="#e50000"/><path d="M117.6 115.8L128.3 110.1L130.9 107.5L119.5 113.5Z" fill="#0043ff"/><path d="M63.3 120L75.3 122.8L74.3 121.6L61.2 118.5Z" fill="#0008ff"/><path d="M32.4 95L41.2 102.9L39.5 99.5L30.4 91.3Z" fill="#00a9ff"/><path d="M52.2 4.5L46.5 10.5L50.4 8.3L55.6 2.9Z" fill="#ed0000"/><path d="M149.7 64L152.3 54L151.7 49.6L149.2 59.5Z" fill="#bbff44"/><path d="M137.1 98L145.2 89.5L146.9 85.6L138.5 94.3Z" fill="#00ceff"/><path d="M22 60.5L25.7 70.5L25.9 66L22.2 56Z" fill="#94ff6b"/><path d="M94.3 -4.9L86.5 -5.3L86.7 -4.5L92.9 -4.1Z" fill="#e50000"/><path d="M47.9 111.4L59.2 116.7L57.4 114.5L45.4 108.9Z" fill="#0043ff"/><path d="M86.5 -5.3L78.8 -4.6L80.5 -3.9L86.7 -4.5Z" fill="#e50000"/><path d="M33.8 22.1L31.6 30.7L34.4 27L36.5 18.8Z" fill="#ff6300"/><path d="M140.1 25.3L137 17.2L134 14.3L136.9 21.8Z" fill="#ff4300"/><path d="M123.4 7.1L117.6 1.9L114.3 0.7L119.4 5.4Z" fill="#e50000"/><path d="M110.7 -0.1L104 -3.3L101.4 -3.2L107 -0.5Z" fill="#e50000"/><path d="M101.4 -3.2L94.3 -4.9L92.9 -4.1L98.6 -2.8Z" fill="#e50000"/><path d="M88.5 123.6L101.5 122.4L102.8 121.1L88.6 122.5Z" fill="#0008ff"/><path d="M149.2 59.5L151.7 49.6L150.7 45.2L148.2 55Z" fill="#e3ff1c"/><path d="M69.1 -2.7L62.8 0.7L66.6 0.1L72 -2.7Z" fill="#e50000"/><path d="M75.3 122.8L88.5 123.6L88.6 122.5L74.3 121.6Z" fill="#0008ff"/><path d="M78.8 -4.6L72 -2.7L74.9 -2.4L80.5 -3.9Z" fill="#e50000"/><path d="M30.4 91.3L39.5 99.5L38.1 95.9L28.7 87.4Z" fill="#00ceff"/><path d="M55.6 2.9L50.4 8.3L54.5 6.4L59.1 1.6Z" fill="#e50000"/><path d="M119.5 113.5L130.9 107.5L133.2 104.6L121.3 110.9Z" fill="#0063ff"/><path d="M102.8 121.1L115.5 117.7L117.6 115.8L104 119.5Z" fill="#0025ff"/><path d="M22.2 56L25.9 66L26.5 61.5L22.8 51.6Z" fill="#bbff44"/><path d="M138.5 94.3L146.9 85.6L148.2 81.5L139.7 90.4Z" fill="#00f4ff"/><path d="M36.5 18.8L34.4 27L37.6 23.4L39.6 15.8Z" fill="#ff4300"/><path d="M136.9 21.8L134 14.3L130.7 11.6L133.4 18.6Z" fill="#ff2500"/><path d="M61.2 118.5L74.3 121.6L73.3 120L59.2 116.7Z" fill="#0025ff"/><path d="M119.4 5.4L114.3 0.7L110.7 -0.1L115.2 3.9Z" fill="#e50000"/><path d="M45.4 108.9L57.4 114.5L55.8 112L43.2 106Z" fill="#0063ff"/><path d="M148.2 55L150.7 45.2L149.3 40.9L146.9 50.5Z" fill="#fff400"/><path d="M22.8 51.6L26.5 61.5L27.4 56.9L23.8 47.2Z" fill="#e3ff1c"/><path d="M92.9 -4.1L86.7 -4.5L86.8 -3.3L91.5 -3Z" fill="#e50000"/><path d="M86.7 -4.5L80.5 -3.9L82.1 -2.8L86.8 -3.3Z" fill="#e50000"/><path d="M107 -0.5L101.4 -3.2L98.6 -2.8L103.2 -0.6Z" fill="#e50000"/><path d="M59.1 1.6L54.5 6.4L58.8 4.8L62.8 0.7Z" fill="#e50000"/><path d="M28.7 87.4L38.1 95.9L37 92L27.4 83.4Z" fill="#00f4ff"/><path d="M39.6 15.8L37.6 23.4L41.1 20.1L42.9 13Z" fill="#ff2500"/><path d="M133.4 18.6L130.7 11.6L127.2 9.2L129.7 15.7Z" fill="#ff0800"/><path d="M139.7 90.4L148.2 81.5L149.2 77.2L140.5 86.3Z" fill="#1cffe3"/><path d="M72 -2.7L66.6 0.1L70.6 -0.1L74.9 -2.4Z" fill="#e50000"/><path d="M121.3 110.9L133.2 104.6L135.3 101.4L122.8 108Z" fill="#0085ff"/><path d="M98.6 -2.8L92.9 -4.1L91.5 -3L95.9 -1.9Z" fill="#e50000"/><path d="M80.5 -3.9L74.9 -2.4L77.9 -1.7L82.1 -2.8Z" fill="#e50000"/><path d="M146.9 50.5L149.3 40.9L147.6 36.8L145.2 46.1Z" fill="#ffce00"/><path d="M88.6 122.5L102.8 121.1L104 119.5L88.7 120.9Z" fill="#0025ff"/><path d="M104 119.5L117.6 115.8L119.5 113.5L105 117.5Z" fill="#0043ff"/><path d="M115.2 3.9L110.7 -0.1L107 -0.5L110.8 2.9Z" fill="#e50000"/><path d="M74.3 121.6L88.6 122.5L88.7 120.9L73.3 120Z" fill="#0025ff"/><path d="M23.8 47.2L27.4 56.9L28.7 52.4L25.2 42.9Z" fill="#fff400"/><path d="M42.9 13L41.1 20.1L44.8 17L46.5 10.5Z" fill="#ff0800"/><path d="M129.7 15.7L127.2 9.2L123.4 7.1L125.6 13Z" fill="#ed0000"/><path d="M59.2 116.7L73.3 120L72.4 118L57.4 114.5Z" fill="#0043ff"/><path d="M43.2 106L55.8 112L54.4 109.1L41.2 102.9Z" fill="#0085ff"/><path d="M62.8 0.7L58.8 4.8L63.3 3.6L66.6 0.1Z" fill="#e50000"/><path d="M27.4 83.4L37 92L36.2 88L26.5 79.2Z" fill="#1cffe3"/><path d="M140.5 86.3L149.2 77.2L149.7 72.9L141 82.1Z" fill="#44ffbb"/><path d="M145.2 46.1L147.6 36.8L145.4 32.8L143.1 41.8Z" fill="#ffa900"/><path d="M103.2 -0.6L98.6 -2.8L95.9 -1.9L99.3 -0.3Z" fill="#e50000"/><path d="M25.2 42.9L28.7 52.4L30.4 47.9L26.9 38.7Z" fill="#ffce00"/><path d="M74.9 -2.4L70.6 -0.1L74.7 0.1L77.9 -1.7Z" fill="#e50000"/><path d="M46.5 10.5L44.8 17L48.9 14.2L50.4 8.3Z" fill="#ed0000"/><path d="M91.5 -3L86.8 -3.3L87 -1.6L90.1 -1.4Z" fill="#e50000"/><path d="M122.8 108L135.3 101.4L137.1 98L124.1 104.8Z" fill="#00a9ff"/><path d="M86.8 -3.3L82.1 -2.8L83.8 -1.3L87 -1.6Z" fill="#e50000"/><path d="M110.8 2.9L107 -0.5L103.2 -0.6L106.3 2.1Z" fill="#e50000"/><path d="M125.6 13L123.4 7.1L119.4 5.4L121.4 10.6Z" fill="#e50000"/><path d="M95.9 -1.9L91.5 -3L90.1 -1.4L93 -0.8Z" fill="#e50000"/><path d="M66.6 0.1L63.3 3.6L67.9 2.7L70.6 -0.1Z" fill="#e50000"/><path d="M143.1 41.8L145.4 32.8L142.9 28.9L140.7 37.5Z" fill="#ff8500"/><path d="M82.1 -2.8L77.9 -1.7L81 -0.6L83.8 -1.3Z" fill="#e50000"/><path d="M26.5 79.2L36.2 88L35.7 83.7L25.9 74.9Z" fill="#44ffbb"/><path d="M105 117.5L119.5 113.5L121.3 110.9L106 115.1Z" fill="#0063ff"/><path d="M141 82.1L149.7 72.9L149.9 68.5L141.2 77.7Z" fill="#6bff94"/><path d="M26.9 38.7L30.4 47.9L32.4 43.5L29.1 34.6Z" fill="#ffa900"/><path d="M88.7 120.9L104 119.5L105 117.5L88.8 119Z" fill="#0043ff"/><path d="M50.4 8.3L48.9 14.2L53.1 11.6L54.5 6.4Z" fill="#e50000"/><path d="M41.2 102.9L54.4 109.1L53.2 105.9L39.5 99.5Z" fill="#00a9ff"/><path d="M73.3 120L88.7 120.9L88.8 119L72.4 118Z" fill="#0043ff"/><path d="M121.4 10.6L119.4 5.4L115.2 3.9L116.9 8.5Z" fill="#e50000"/><path d="M57.4 114.5L72.4 118L71.6 115.6L55.8 112Z" fill="#0063ff"/><path d="M99.3 -0.3L95.9 -1.9L93 -0.8L95.3 0.3Z" fill="#e50000"/><path d="M106.3 2.1L103.2 -0.6L99.3 -0.3L101.6 1.7Z" fill="#e50000"/><path d="M140.7 37.5L142.9 28.9L140.1 25.3L138 33.4Z" fill="#ff6300"/><path d="M77.9 -1.7L74.7 0.1L78.8 0.6L81 -0.6Z" fill="#e50000"/><path d="M124.1 104.8L137.1 98L138.5 94.3L125.2 101.3Z" fill="#00ceff"/><path d="M29.1 34.6L32.4 43.5L34.8 39.2L31.6 30.7Z" fill="#ff8500"/><path d="M70.6 -0.1L67.9 2.7L72.6 2.2L74.7 0.1Z" fill="#e50000"/><path d="M54.5 6.4L53.1 11.6L57.6 9.4L58.8 4.8Z" fill="#e50000"/><path d="M141.2 77.7L149.9 68.5L149.7 64L141 73.2Z" fill="#94ff6b"/><path d="M25.9 74.9L35.7 83.7L35.5 79.3L25.7 70.5Z" fill="#6bff94"/><path d="M116.9 8.5L115.2 3.9L110.8 2.9L112.2 6.7Z" fill="#e50000"/><path d="M90.1 -1.4L87 -1.6L87.1 0.4L88.7 0.5Z" fill="#e50000"/><path d="M138 33.4L140.1 25.3L136.9 21.8L134.9 29.5Z" fill="#ff4300"/><path d="M87 -1.6L83.8 -1.3L85.5 0.5L87.1 0.4Z" fill="#e50000"/><path d="M93 -0.8L90.1 -1.4L88.7 0.5L90.1 0.8Z" fill="#e50000"/><path d="M58.8 4.8L57.6 9.4L62.3 7.5L63.3 3.6Z" fill="#e50000"/><path d="M31.6 30.7L34.8 39.2L37.5 35L34.4 27Z" fill="#ff6300"/><path d="M83.8 -1.3L81 -0.6L84.1 0.9L85.5 0.5Z" fill="#e50000"/><path d="M39.5 99.5L53.2 105.9L52.2 102.5L38.1 95.9Z" fill="#00ceff"/><path d="M101.6 1.7L99.3 -0.3L95.3 0.3L96.9 1.7Z" fill="#e50000"/><path d="M106 115.1L121.3 110.9L122.8 108L106.8 112.4Z" fill="#0085ff"/><path d="M112.2 6.7L110.8 2.9L106.3 2.1L107.4 5.2Z" fill="#e50000"/><path d="M74.7 0.1L72.6 2.2L77.4 2L78.8 0.6Z" fill="#e50000"/><path d="M134.9 29.5L136.9 21.8L133.4 18.6L131.6 25.7Z" fill="#ff2500"/><path d="M88.8 119L105 117.5L106 115.1L88.9 116.7Z" fill="#0063ff"/><path d="M95.3 0.3L93 -0.8L90.1 0.8L91.3 1.4Z" fill="#e50000"/><path d="M141 73.2L149.7 64L149.2 59.5L140.5 68.6Z" fill="#bbff44"/><path d="M81 -0.6L78.8 0.6L83 1.5L84.1 0.9Z" fill="#e50000"/><path d="M72.4 118L88.8 119L88.9 116.7L71.6 115.6Z" fill="#0063ff"/><path d="M25.7 70.5L35.5 79.3L35.7 74.8L25.9 66Z" fill="#94ff6b"/><path d="M55.8 112L71.6 115.6L70.9 113L54.4 109.1Z" fill="#0085ff"/><path d="M63.3 3.6L62.3 7.5L67.1 5.8L67.9 2.7Z" fill="#e50000"/><path d="M125.2 101.3L138.5 94.3L139.7 90.4L126 97.6Z" fill="#00f4ff"/><path d="M34.4 27L37.5 35L40.5 31L37.6 23.4Z" fill="#ff4300"/><path d="M107.4 5.2L106.3 2.1L101.6 1.7L102.5 4.1Z" fill="#e50000"/><path d="M131.6 25.7L133.4 18.6L129.7 15.7L128 22.2Z" fill="#ff0800"/><path d="M96.9 1.7L95.3 0.3L91.3 1.4L92.1 2.1Z" fill="#e50000"/><path d="M67.9 2.7L67.1 5.8L72 4.6L72.6 2.2Z" fill="#e50000"/><path d="M78.8 0.6L77.4 2L82.3 2.2L83 1.5Z" fill="#e50000"/><path d="M37.6 23.4L40.5 31L43.8 27.1L41.1 20.1Z" fill="#ff2500"/><path d="M140.5 68.6L149.2 59.5L148.2 55L139.7 63.9Z" fill="#e3ff1c"/><path d="M102.5 4.1L101.6 1.7L96.9 1.7L97.5 3.3Z" fill="#e50000"/><path d="M38.1 95.9L52.2 102.5L51.4 98.8L37 92Z" fill="#00f4ff"/><path d="M128 22.2L129.7 15.7L125.6 13L124.1 18.9Z" fill="#ed0000"/><path d="M25.9 66L35.7 74.8L36.2 70.2L26.5 61.5Z" fill="#bbff44"/><path d="M88.7 0.5L87.1 0.4L87.2 2.8Z" fill="#e50000"/><path d="M87.1 0.4L85.5 0.5L87.2 2.8Z" fill="#e50000"/><path d="M72.6 2.2L72 4.6L77 3.6L77.4 2Z" fill="#e50000"/><path d="M90.1 0.8L88.7 0.5L87.2 2.8Z" fill="#e50000"/><path d="M85.5 0.5L84.1 0.9L87.2 2.8Z" fill="#e50000"/><path d="M41.1 20.1L43.8 27.1L47.3 23.5L44.8 17Z" fill="#ff0800"/><path d="M106.8 112.4L122.8 108L124.1 104.8L107.5 109.3Z" fill="#00a9ff"/><path d="M91.3 1.4L90.1 0.8L87.2 2.8Z" fill="#e50000"/><path d="M84.1 0.9L83 1.5L87.2 2.8Z" fill="#e50000"/><path d="M124.1 18.9L125.6 13L121.4 10.6L120 15.8Z" fill="#e50000"/><path d="M97.5 3.3L96.9 1.7L92.1 2.1L92.4 2.8Z" fill="#e50000"/><path d="M126 97.6L139.7 90.4L140.5 86.3L126.7 93.6Z" fill="#1cffe3"/><path d="M77.4 2L77 3.6L82.1 3L82.3 2.2Z" fill="#e50000"/><path d="M92.1 2.1L91.3 1.4L87.2 2.8Z" fill="#e50000"/><path d="M83 1.5L82.3 2.2L87.2 2.8Z" fill="#e50000"/><path d="M44.8 17L47.3 23.5L51.1 20L48.9 14.2Z" fill="#ed0000"/><path d="M88.9 116.7L106 115.1L106.8 112.4L88.9 114.1Z" fill="#0085ff"/><path d="M139.7 63.9L148.2 55L146.9 50.5L138.5 59.3Z" fill="#fff400"/><path d="M120 15.8L121.4 10.6L116.9 8.5L115.7 13Z" fill="#e50000"/><path d="M54.4 109.1L70.9 113L70.3 109.9L53.2 105.9Z" fill="#00a9ff"/><path d="M92.4 2.8L92.1 2.1L87.2 2.8Z" fill="#e50000"/><path d="M82.3 2.2L82.1 3L87.2 2.8Z" fill="#e50000"/><path d="M71.6 115.6L88.9 116.7L88.9 114.1L70.9 113Z" fill="#0085ff"/><path d="M26.5 61.5L36.2 70.2L37 65.6L27.4 56.9Z" fill="#e3ff1c"/><path d="M115.7 13L116.9 8.5L112.2 6.7L111.2 10.5Z" fill="#e50000"/><path d="M48.9 14.2L51.1 20L55.1 16.9L53.1 11.6Z" fill="#e50000"/><path d="M92.2 3.6L92.4 2.8L87.2 2.8Z" fill="#e50000"/><path d="M82.1 3L82.4 3.8L87.2 2.8Z" fill="#e50000"/><path d="M111.2 10.5L112.2 6.7L107.4 5.2L106.6 8.3Z" fill="#e50000"/><path d="M97.1 4.9L97.5 3.3L92.4 2.8L92.2 3.6Z" fill="#e50000"/><path d="M37 92L51.4 98.8L50.9 94.8L36.2 88Z" fill="#1cffe3"/><path d="M106.6 8.3L107.4 5.2L102.5 4.1L101.9 6.4Z" fill="#e50000"/><path d="M101.9 6.4L102.5 4.1L97.5 3.3L97.1 4.9Z" fill="#e50000"/><path d="M53.1 11.6L55.1 16.9L59.3 13.9L57.6 9.4Z" fill="#e50000"/><path d="M91.5 4.4L92.2 3.6L87.2 2.8Z" fill="#e50000"/><path d="M77 3.6L77.6 5.2L82.4 3.8L82.1 3Z" fill="#e50000"/><path d="M82.4 3.8L83.2 4.5L87.2 2.8Z" fill="#e50000"/><path d="M138.5 59.3L146.9 50.5L145.2 46.1L137.1 54.6Z" fill="#ffce00"/><path d="M57.6 9.4L59.3 13.9L63.7 11.3L62.3 7.5Z" fill="#e50000"/><path d="M72 4.6L72.9 6.9L77.6 5.2L77 3.6Z" fill="#e50000"/><path d="M90.4 4.9L91.5 4.4L87.2 2.8Z" fill="#e50000"/><path d="M62.3 7.5L63.7 11.3L68.2 8.9L67.1 5.8Z" fill="#e50000"/><path d="M67.1 5.8L68.2 8.9L72.9 6.9L72 4.6Z" fill="#e50000"/><path d="M83.2 4.5L84.4 5L87.2 2.8Z" fill="#e50000"/><path d="M126.7 93.6L140.5 86.3L141 82.1L127 89.4Z" fill="#44ffbb"/><path d="M27.4 56.9L37 65.6L38.1 60.9L28.7 52.4Z" fill="#fff400"/><path d="M89 5.3L90.4 4.9L87.2 2.8Z" fill="#e50000"/><path d="M84.4 5L85.8 5.4L87.2 2.8Z" fill="#e50000"/><path d="M107.5 109.3L124.1 104.8L125.2 101.3L108.1 106Z" fill="#00ceff"/><path d="M87.4 5.5L89 5.3L87.2 2.8Z" fill="#e50000"/><path d="M85.8 5.4L87.4 5.5L87.2 2.8Z" fill="#e50000"/><path d="M95.7 6.3L97.1 4.9L92.2 3.6L91.5 4.4Z" fill="#e50000"/><path d="M137.1 54.6L145.2 46.1L143.1 41.8L135.3 49.9Z" fill="#ffa900"/><path d="M77.6 5.2L79.2 6.6L83.2 4.5L82.4 3.8Z" fill="#e50000"/><path d="M53.2 105.9L70.3 109.9L69.8 106.6L52.2 102.5Z" fill="#00ceff"/><path d="M88.9 114.1L106.8 112.4L107.5 109.3L89 111.1Z" fill="#00a9ff"/><path d="M28.7 52.4L38.1 60.9L39.5 56.1L30.4 47.9Z" fill="#ffce00"/><path d="M36.2 88L50.9 94.8L50.5 90.7L35.7 83.7Z" fill="#44ffbb"/><path d="M70.9 113L88.9 114.1L89 111.1L70.3 109.9Z" fill="#00a9ff"/><path d="M99.8 8.6L101.9 6.4L97.1 4.9L95.7 6.3Z" fill="#e50000"/><path d="M135.3 49.9L143.1 41.8L140.7 37.5L133.2 45.4Z" fill="#ff8500"/><path d="M93.5 7.5L95.7 6.3L91.5 4.4L90.4 4.9Z" fill="#e50000"/><path d="M127 89.4L141 82.1L141.2 77.7L127.2 85.1Z" fill="#6bff94"/><path d="M79.2 6.6L81.5 7.6L84.4 5L83.2 4.5Z" fill="#e50000"/><path d="M72.9 6.9L75.2 9L79.2 6.6L77.6 5.2Z" fill="#e50000"/><path d="M30.4 47.9L39.5 56.1L41.2 51.4L32.4 43.5Z" fill="#ffa900"/><path d="M103.9 11.2L106.6 8.3L101.9 6.4L99.8 8.6Z" fill="#e50000"/><path d="M133.2 45.4L140.7 37.5L138 33.4L130.9 40.9Z" fill="#ff6300"/><path d="M90.7 8.2L93.5 7.5L90.4 4.9L89 5.3Z" fill="#e50000"/><path d="M81.5 7.6L84.4 8.3L85.8 5.4L84.4 5Z" fill="#e50000"/><path d="M108.1 106L125.2 101.3L126 97.6L108.6 102.4Z" fill="#00f4ff"/><path d="M68.2 8.9L71.3 11.7L75.2 9L72.9 6.9Z" fill="#e50000"/><path d="M87.5 8.5L90.7 8.2L89 5.3L87.4 5.5Z" fill="#e50000"/><path d="M84.4 8.3L87.5 8.5L87.4 5.5L85.8 5.4Z" fill="#e50000"/><path d="M107.9 14L111.2 10.5L106.6 8.3L103.9 11.2Z" fill="#e50000"/><path d="M130.9 40.9L138 33.4L134.9 29.5L128.3 36.5Z" fill="#ff4300"/><path d="M35.7 83.7L50.5 90.7L50.4 86.3L35.5 79.3Z" fill="#6bff94"/><path d="M32.4 43.5L41.2 51.4L43.2 46.8L34.8 39.2Z" fill="#ff8500"/><path d="M96.6 10.3L99.8 8.6L95.7 6.3L93.5 7.5Z" fill="#e50000"/><path d="M52.2 102.5L69.8 106.6L69.4 103L51.4 98.8Z" fill="#00f4ff"/><path d="M127.2 85.1L141.2 77.7L141 73.2L127 80.5Z" fill="#94ff6b"/><path d="M111.7 17.2L115.7 13L111.2 10.5L107.9 14Z" fill="#e50000"/><path d="M128.3 36.5L134.9 29.5L131.6 25.7L125.4 32.2Z" fill="#ff2500"/><path d="M63.7 11.3L67.5 14.7L71.3 11.7L68.2 8.9Z" fill="#e50000"/><path d="M75.2 9L78.6 10.6L81.5 7.6L79.2 6.6Z" fill="#e50000"/><path d="M89 111.1L107.5 109.3L108.1 106L89 107.8Z" fill="#00ceff"/><path d="M115.4 20.6L120 15.8L115.7 13L111.7 17.2Z" fill="#e50000"/><path d="M125.4 32.2L131.6 25.7L128 22.2L122.3 28.2Z" fill="#ff0800"/><path d="M34.8 39.2L43.2 46.8L45.4 42.2L37.5 35Z" fill="#ff6300"/><path d="M118.9 24.3L124.1 18.9L120 15.8L115.4 20.6Z" fill="#e50000"/><path d="M122.3 28.2L128 22.2L124.1 18.9L118.9 24.3Z" fill="#ed0000"/><path d="M70.3 109.9L89 111.1L89 107.8L69.8 106.6Z" fill="#00ceff"/><path d="M59.3 13.9L63.8 18L67.5 14.7L63.7 11.3Z" fill="#e50000"/><path d="M37.5 35L45.4 42.2L47.9 37.8L40.5 31Z" fill="#ff4300"/><path d="M55.1 16.9L60.2 21.5L63.8 18L59.3 13.9Z" fill="#e50000"/><path d="M92.4 11.4L96.6 10.3L93.5 7.5L90.7 8.2Z" fill="#e50000"/><path d="M40.5 31L47.9 37.8L50.7 33.4L43.8 27.1Z" fill="#ff2500"/><path d="M35.5 79.3L50.4 86.3L50.5 81.8L35.7 74.8Z" fill="#94ff6b"/><path d="M108.6 102.4L126 97.6L126.7 93.6L108.9 98.5Z" fill="#1cffe3"/><path d="M78.6 10.6L83 11.6L84.4 8.3L81.5 7.6Z" fill="#e50000"/><path d="M99.6 13.4L103.9 11.2L99.8 8.6L96.6 10.3Z" fill="#e50000"/><path d="M51.1 20L56.9 25.3L60.2 21.5L55.1 16.9Z" fill="#e50000"/><path d="M127 80.5L141 73.2L140.5 68.6L126.7 75.9Z" fill="#bbff44"/><path d="M43.8 27.1L50.7 33.4L53.7 29.3L47.3 23.5Z" fill="#ff0800"/><path d="M47.3 23.5L53.7 29.3L56.9 25.3L51.1 20Z" fill="#ed0000"/><path d="M71.3 11.7L75.9 13.8L78.6 10.6L75.2 9Z" fill="#e50000"/><path d="M87.7 11.9L92.4 11.4L90.7 8.2L87.5 8.5Z" fill="#e50000"/><path d="M83 11.6L87.7 11.9L87.5 8.5L84.4 8.3Z" fill="#e50000"/><path d="M51.4 98.8L69.4 103L69.1 99.1L50.9 94.8Z" fill="#1cffe3"/><path d="M102.5 16.9L107.9 14L103.9 11.2L99.6 13.4Z" fill="#e50000"/><path d="M89 107.8L108.1 106L108.6 102.4L89.1 104.2Z" fill="#00f4ff"/><path d="M35.7 74.8L50.5 81.8L50.9 77.1L36.2 70.2Z" fill="#bbff44"/><path d="M126.7 75.9L140.5 68.6L139.7 63.9L126 71.1Z" fill="#e3ff1c"/><path d="M69.8 106.6L89 107.8L89.1 104.2L69.4 103Z" fill="#00f4ff"/><path d="M67.5 14.7L73.1 17.3L75.9 13.8L71.3 11.7Z" fill="#e50000"/><path d="M94 15L99.6 13.4L96.6 10.3L92.4 11.4Z" fill="#e50000"/><path d="M108.9 98.5L126.7 93.6L127 89.4L109.1 94.3Z" fill="#44ffbb"/><path d="M75.9 13.8L81.6 15.2L83 11.6L78.6 10.6Z" fill="#e50000"/><path d="M105.4 20.6L111.7 17.2L107.9 14L102.5 16.9Z" fill="#e50000"/><path d="M126 71.1L139.7 63.9L138.5 59.3L125.2 66.3Z" fill="#fff400"/><path d="M36.2 70.2L50.9 77.1L51.4 72.3L37 65.6Z" fill="#e3ff1c"/><path d="M50.9 94.8L69.1 99.1L68.9 95L50.5 90.7Z" fill="#44ffbb"/><path d="M87.8 15.5L94 15L92.4 11.4L87.7 11.9Z" fill="#e50000"/><path d="M81.6 15.2L87.8 15.5L87.7 11.9L83 11.6Z" fill="#e50000"/><path d="M63.8 18L70.5 21.1L73.1 17.3L67.5 14.7Z" fill="#e50000"/><path d="M108.1 24.5L115.4 20.6L111.7 17.2L105.4 20.6Z" fill="#e50000"/><path d="M125.2 66.3L138.5 59.3L137.1 54.6L124.1 61.4Z" fill="#ffce00"/><path d="M89.1 104.2L108.6 102.4L108.9 98.5L89.1 100.3Z" fill="#1cffe3"/><path d="M95.7 18.7L102.5 16.9L99.6 13.4L94 15Z" fill="#e50000"/><path d="M109.1 94.3L127 89.4L127.2 85.1L109.2 90Z" fill="#6bff94"/><path d="M37 65.6L51.4 72.3L52.2 67.5L38.1 60.9Z" fill="#fff400"/><path d="M69.4 103L89.1 104.2L89.1 100.3L69.1 99.1Z" fill="#1cffe3"/><path d="M73.1 17.3L80.2 19L81.6 15.2L75.9 13.8Z" fill="#e50000"/><path d="M60.2 21.5L68 25.1L70.5 21.1L63.8 18Z" fill="#e50000"/><path d="M110.7 28.6L118.9 24.3L115.4 20.6L108.1 24.5Z" fill="#e50000"/><path d="M124.1 61.4L137.1 54.6L135.3 49.9L122.8 56.5Z" fill="#ffa900"/><path d="M50.5 90.7L68.9 95L68.9 90.6L50.4 86.3Z" fill="#6bff94"/><path d="M38.1 60.9L52.2 67.5L53.2 62.5L39.5 56.1Z" fill="#ffce00"/><path d="M113.2 33L122.3 28.2L118.9 24.3L110.7 28.6Z" fill="#ed0000"/><path d="M122.8 56.5L135.3 49.9L133.2 45.4L121.3 51.7Z" fill="#ff8500"/><path d="M88 19.5L95.7 18.7L94 15L87.8 15.5Z" fill="#e50000"/><path d="M56.9 25.3L65.6 29.4L68 25.1L60.2 21.5Z" fill="#e50000"/><path d="M80.2 19L88 19.5L87.8 15.5L81.6 15.2Z" fill="#e50000"/><path d="M115.5 37.5L125.4 32.2L122.3 28.2L113.2 33Z" fill="#ff0800"/><path d="M121.3 51.7L133.2 45.4L130.9 40.9L119.5 46.8Z" fill="#ff6300"/><path d="M97.2 22.8L105.4 20.6L102.5 16.9L95.7 18.7Z" fill="#e50000"/><path d="M109.2 90L127.2 85.1L127 80.5L109.1 85.4Z" fill="#94ff6b"/><path d="M117.6 42.1L128.3 36.5L125.4 32.2L115.5 37.5Z" fill="#ff2500"/><path d="M119.5 46.8L130.9 40.9L128.3 36.5L117.6 42.1Z" fill="#ff4300"/><path d="M39.5 56.1L53.2 62.5L54.4 57.6L41.2 51.4Z" fill="#ffa900"/><path d="M89.1 100.3L108.9 98.5L109.1 94.3L89.1 96.2Z" fill="#44ffbb"/><path d="M53.7 29.3L63.3 33.8L65.6 29.4L56.9 25.3Z" fill="#ed0000"/><path d="M70.5 21.1L78.9 23.1L80.2 19L73.1 17.3Z" fill="#e50000"/><path d="M69.1 99.1L89.1 100.3L89.1 96.2L68.9 95Z" fill="#44ffbb"/><path d="M41.2 51.4L54.4 57.6L55.8 52.7L43.2 46.8Z" fill="#ff8500"/><path d="M50.7 33.4L61.2 38.3L63.3 33.8L53.7 29.3Z" fill="#ff0800"/><path d="M50.4 86.3L68.9 90.6L68.9 86.1L50.5 81.8Z" fill="#94ff6b"/><path d="M43.2 46.8L55.8 52.7L57.4 47.8L45.4 42.2Z" fill="#ff6300"/><path d="M47.9 37.8L59.2 43L61.2 38.3L50.7 33.4Z" fill="#ff2500"/><path d="M45.4 42.2L57.4 47.8L59.2 43L47.9 37.8Z" fill="#ff4300"/><path d="M98.7 27L108.1 24.5L105.4 20.6L97.2 22.8Z" fill="#e50000"/><path d="M109.1 85.4L127 80.5L126.7 75.9L108.9 80.7Z" fill="#bbff44"/><path d="M88.1 23.6L97.2 22.8L95.7 18.7L88 19.5Z" fill="#e50000"/><path d="M78.9 23.1L88.1 23.6L88 19.5L80.2 19Z" fill="#e50000"/><path d="M68 25.1L77.6 27.4L78.9 23.1L70.5 21.1Z" fill="#e50000"/><path d="M89.1 96.2L109.1 94.3L109.2 90L89.1 91.9Z" fill="#6bff94"/><path d="M50.5 81.8L68.9 86.1L69.1 81.4L50.9 77.1Z" fill="#bbff44"/><path d="M68.9 95L89.1 96.2L89.1 91.9L68.9 90.6Z" fill="#6bff94"/><path d="M100.2 31.5L110.7 28.6L108.1 24.5L98.7 27Z" fill="#e50000"/><path d="M108.9 80.7L126.7 75.9L126 71.1L108.6 75.9Z" fill="#e3ff1c"/><path d="M65.6 29.4L76.4 31.9L77.6 27.4L68 25.1Z" fill="#e50000"/><path d="M88.2 28L98.7 27L97.2 22.8L88.1 23.6Z" fill="#e50000"/><path d="M77.6 27.4L88.2 28L88.1 23.6L78.9 23.1Z" fill="#e50000"/><path d="M50.9 77.1L69.1 81.4L69.4 76.5L51.4 72.3Z" fill="#e3ff1c"/><path d="M101.5 36.2L113.2 33L110.7 28.6L100.2 31.5Z" fill="#ed0000"/><path d="M108.6 75.9L126 71.1L125.2 66.3L108.1 70.9Z" fill="#fff400"/><path d="M89.1 91.9L109.2 90L109.1 85.4L89.1 87.3Z" fill="#94ff6b"/><path d="M68.9 90.6L89.1 91.9L89.1 87.3L68.9 86.1Z" fill="#94ff6b"/><path d="M63.3 33.8L75.3 36.6L76.4 31.9L65.6 29.4Z" fill="#ed0000"/><path d="M102.8 40.9L115.5 37.5L113.2 33L101.5 36.2Z" fill="#ff0800"/><path d="M108.1 70.9L125.2 66.3L124.1 61.4L107.5 65.9Z" fill="#ffce00"/><path d="M51.4 72.3L69.4 76.5L69.8 71.6L52.2 67.5Z" fill="#fff400"/><path d="M88.4 32.6L100.2 31.5L98.7 27L88.2 28Z" fill="#e50000"/><path d="M76.4 31.9L88.4 32.6L88.2 28L77.6 27.4Z" fill="#e50000"/><path d="M61.2 38.3L74.3 41.4L75.3 36.6L63.3 33.8Z" fill="#ff0800"/><path d="M104 45.8L117.6 42.1L115.5 37.5L102.8 40.9Z" fill="#ff2500"/><path d="M107.5 65.9L124.1 61.4L122.8 56.5L106.8 60.9Z" fill="#ffa900"/><path d="M89.1 87.3L109.1 85.4L108.9 80.7L89.1 82.6Z" fill="#bbff44"/><path d="M52.2 67.5L69.8 71.6L70.3 66.5L53.2 62.5Z" fill="#ffce00"/><path d="M105 50.8L119.5 46.8L117.6 42.1L104 45.8Z" fill="#ff4300"/><path d="M106.8 60.9L122.8 56.5L121.3 51.7L106 55.8Z" fill="#ff8500"/><path d="M68.9 86.1L89.1 87.3L89.1 82.6L69.1 81.4Z" fill="#bbff44"/><path d="M106 55.8L121.3 51.7L119.5 46.8L105 50.8Z" fill="#ff6300"/><path d="M59.2 43L73.3 46.3L74.3 41.4L61.2 38.3Z" fill="#ff2500"/><path d="M53.2 62.5L70.3 66.5L70.9 61.5L54.4 57.6Z" fill="#ffa900"/><path d="M88.5 37.4L101.5 36.2L100.2 31.5L88.4 32.6Z" fill="#ed0000"/><path d="M57.4 47.8L72.4 51.3L73.3 46.3L59.2 43Z" fill="#ff4300"/><path d="M75.3 36.6L88.5 37.4L88.4 32.6L76.4 31.9Z" fill="#ed0000"/><path d="M54.4 57.6L70.9 61.5L71.6 56.4L55.8 52.7Z" fill="#ff8500"/><path d="M55.8 52.7L71.6 56.4L72.4 51.3L57.4 47.8Z" fill="#ff6300"/><path d="M89.1 82.6L108.9 80.7L108.6 75.9L89.1 77.7Z" fill="#e3ff1c"/><path d="M69.1 81.4L89.1 82.6L89.1 77.7L69.4 76.5Z" fill="#e3ff1c"/><path d="M88.6 42.3L102.8 40.9L101.5 36.2L88.5 37.4Z" fill="#ff0800"/><path d="M74.3 41.4L88.6 42.3L88.5 37.4L75.3 36.6Z" fill="#ff0800"/><path d="M89.1 77.7L108.6 75.9L108.1 70.9L89 72.8Z" fill="#fff400"/><path d="M69.4 76.5L89.1 77.7L89 72.8L69.8 71.6Z" fill="#fff400"/><path d="M88.7 47.3L104 45.8L102.8 40.9L88.6 42.3Z" fill="#ff2500"/><path d="M89 72.8L108.1 70.9L107.5 65.9L89 67.7Z" fill="#ffce00"/><path d="M73.3 46.3L88.7 47.3L88.6 42.3L74.3 41.4Z" fill="#ff2500"/><path d="M69.8 71.6L89 72.8L89 67.7L70.3 66.5Z" fill="#ffce00"/><path d="M88.8 52.4L105 50.8L104 45.8L88.7 47.3Z" fill="#ff4300"/><path d="M89 67.7L107.5 65.9L106.8 60.9L88.9 62.6Z" fill="#ffa900"/><path d="M72.4 51.3L88.8 52.4L88.7 47.3L73.3 46.3Z" fill="#ff4300"/><path d="M88.9 57.5L106 55.8L105 50.8L88.8 52.4Z" fill="#ff6300"/><path d="M88.9 62.6L106.8 60.9L106 55.8L88.9 57.5Z" fill="#ff8500"/><path d="M70.3 66.5L89 67.7L88.9 62.6L70.9 61.5Z" fill="#ffa900"/><path d="M71.6 56.4L88.9 57.5L88.8 52.4L72.4 51.3Z" fill="#ff6300"/><path d="M70.9 61.5L88.9 62.6L88.9 57.5L71.6 56.4Z" fill="#ff8500"/></g><circle cx="87.2" cy="59.5" r="62.2" fill="url(#wg)"/></g><path d="M79.5 115.7L81.8 116.8L84.5 117.4L87.5 117.6L90.5 117.3L93.2 116.6L95.3 115.5L96.6 114.1L97 112.6L96.4 111.1L95 109.8L92.7 108.8L90 108.1L87 108L84 108.2L81.3 109L79.2 110.1L77.9 111.4L77.5 112.9L78.1 114.4ZM72 116.7L76.4 118.7L81.8 120L87.8 120.3L93.7 119.8L99 118.3L103.1 116.2L105.7 113.5L106.5 110.5L105.4 107.6L102.5 105L98.1 102.9L92.7 101.6L86.7 101.3L80.8 101.8L75.5 103.3L71.4 105.4L68.8 108.1L68 111.1L69.1 114ZM64.9 116.2L71.3 119.2L79.3 121L88.1 121.6L96.7 120.8L104.5 118.6L110.6 115.4L114.3 111.5L115.5 107.1L113.8 102.8L109.6 99L103.2 96L95.2 94.1L86.4 93.5L77.8 94.4L70 96.5L63.9 99.7L60.2 103.7L59 108L60.7 112.3ZM58.3 114.3L66.6 118.2L77 120.6L88.3 121.3L99.5 120.2L109.6 117.5L117.4 113.3L122.3 108.2L123.8 102.6L121.7 97L116.2 92L107.9 88.1L97.5 85.7L86.2 85L75 86.1L64.9 88.8L57.1 92.9L52.2 98.1L50.7 103.7L52.8 109.3ZM52.4 111L62.4 115.7L74.9 118.6L88.5 119.5L102 118.2L114.1 114.9L123.6 109.9L129.5 103.7L131.2 96.9L128.7 90.2L122.1 84.2L112.1 79.6L99.6 76.7L86 75.8L72.5 77.1L60.4 80.4L50.9 85.4L45 91.6L43.3 98.3L45.8 105ZM47.4 106.5L58.9 111.9L73.1 115.2L88.7 116.2L104.2 114.7L118 110.9L128.8 105.2L135.5 98.1L137.6 90.4L134.6 82.7L127.1 75.9L115.6 70.5L101.4 67.2L85.8 66.2L70.3 67.7L56.5 71.5L45.7 77.2L39 84.2L36.9 92L39.9 99.7ZM43.4 100.9L56 106.7L71.7 110.4L88.8 111.5L105.9 109.9L121.1 105.7L133 99.4L140.4 91.6L142.7 83.1L139.4 74.6L131.1 67.1L118.5 61.2L102.8 57.5L85.7 56.5L68.6 58.1L53.4 62.2L41.5 68.5L34.1 76.3L31.8 84.8L35.1 93.3ZM40.4 94.2L53.9 100.4L70.6 104.4L89 105.5L107.1 103.8L123.4 99.3L136.1 92.6L144 84.3L146.4 75.2L143 66.2L134.1 58.1L120.6 51.8L103.9 47.9L85.5 46.8L67.4 48.5L51.1 52.9L38.4 59.6L30.5 68L28.1 77.1L31.5 86.1ZM38.6 86.6L52.6 93.1L70 97.2L89 98.4L107.9 96.6L124.8 92L138 85L146.2 76.4L148.7 66.9L145.1 57.5L135.9 49.2L121.9 42.6L104.5 38.6L85.5 37.4L66.6 39.2L49.7 43.8L36.5 50.8L28.3 59.4L25.8 68.9L29.4 78.3ZM38 78.4L52.2 85L69.7 89.1L89 90.3L108.2 88.5L125.2 83.8L138.6 76.8L146.9 68.1L149.4 58.5L145.8 49L136.5 40.5L122.3 33.9L104.8 29.8L85.5 28.6L66.3 30.4L49.2 35.1L35.9 42.1L27.6 50.8L25.1 60.4L28.7 69.9ZM38.6 69.7L52.6 76.3L70 80.3L89 81.5L107.9 79.7L124.8 75.1L138 68.1L146.2 59.5L148.7 50L145.1 40.6L135.9 32.3L121.9 25.8L104.5 21.7L85.5 20.5L66.6 22.3L49.7 26.9L36.5 33.9L28.3 42.5L25.8 52L29.4 61.4ZM40.4 60.8L53.9 67.1L70.6 71L89 72.1L107.1 70.4L123.4 66L136.1 59.3L144 50.9L146.4 41.8L143 32.8L134.1 24.7L120.6 18.5L103.9 14.5L85.5 13.4L67.4 15.1L51.1 19.6L38.4 26.3L30.5 34.6L28.1 43.7L31.5 52.7ZM43.4 51.8L56 57.7L71.7 61.4L88.8 62.4L105.9 60.8L121.1 56.7L133 50.4L140.4 42.6L142.7 34.1L139.4 25.6L131.1 18L118.5 12.2L102.8 8.5L85.7 7.4L68.6 9L53.4 13.2L41.5 19.5L34.1 27.3L31.8 35.8L35.1 44.3ZM47.4 43L58.9 48.4L73.1 51.7L88.7 52.7L104.2 51.2L118 47.4L128.8 41.7L135.5 34.7L137.6 26.9L134.6 19.2L127.1 12.4L115.6 7L101.4 3.7L85.8 2.7L70.3 4.2L56.5 8L45.7 13.7L39 20.8L36.9 28.5L39.9 36.2ZM52.4 34.7L62.4 39.3L74.9 42.2L88.5 43.1L102 41.8L114.1 38.5L123.6 33.5L129.5 27.3L131.2 20.6L128.7 13.9L122.1 7.9L112.1 3.2L99.6 0.3L86 -0.6L72.5 0.7L60.4 4L50.9 9L45 15.2L43.3 22L45.8 28.7ZM58.3 26.9L66.6 30.8L77 33.2L88.3 33.9L99.5 32.8L109.6 30.1L117.4 26L122.3 20.8L123.8 15.2L121.7 9.6L116.2 4.6L107.9 0.7L97.5 -1.7L86.2 -2.4L75 -1.3L64.9 1.4L57.1 5.6L52.2 10.7L50.7 16.3L52.8 21.9ZM64.9 19.9L71.3 22.9L79.3 24.8L88.1 25.4L96.7 24.5L104.5 22.4L110.6 19.2L114.3 15.2L115.5 10.9L113.8 6.6L109.6 2.7L103.2 -0.3L95.2 -2.1L86.4 -2.7L77.8 -1.9L70 0.3L63.9 3.5L60.2 7.4L59 11.8L60.7 16.1ZM72 13.9L76.4 16L81.8 17.3L87.8 17.6L93.7 17.1L99 15.6L103.1 13.5L105.7 10.8L106.5 7.8L105.4 4.9L102.5 2.2L98.1 0.2L92.7 -1.1L86.7 -1.4L80.8 -0.9L75.5 0.6L71.4 2.7L68.8 5.4L68 8.4L69.1 11.3ZM79.5 9.1L81.8 10.1L84.5 10.8L87.5 10.9L90.5 10.7L93.2 9.9L95.3 8.8L96.6 7.5L97 6L96.4 4.5L95 3.2L92.7 2.1L90 1.5L87 1.3L84 1.6L81.3 2.3L79.2 3.4L77.9 4.8L77.5 6.3L78.1 7.8ZM87.2 113.5L79.5 115.7L72 116.7L64.9 116.2L58.3 114.3L52.4 111L47.4 106.5L43.4 100.9L40.4 94.2L38.6 86.6L38 78.4L38.6 69.7L40.4 60.8L43.4 51.8L47.4 43L52.4 34.7L58.3 26.9L64.9 19.9L72 13.9L79.5 9.1L87.2 5.5M87.2 113.5L81.8 116.8L76.4 118.7L71.3 119.2L66.6 118.2L62.4 115.7L58.9 111.9L56 106.7L53.9 100.4L52.6 93.1L52.2 85L52.6 76.3L53.9 67.1L56 57.7L58.9 48.4L62.4 39.3L66.6 30.8L71.3 22.9L76.4 16L81.8 10.1L87.2 5.5M87.2 113.5L84.5 117.4L81.8 120L79.3 121L77 120.6L74.9 118.6L73.1 115.2L71.7 110.4L70.6 104.4L70 97.2L69.7 89.1L70 80.3L70.6 71L71.7 61.4L73.1 51.7L74.9 42.2L77 33.2L79.3 24.8L81.8 17.3L84.5 10.8L87.2 5.5M87.2 113.5L87.5 117.6L87.8 120.3L88.1 121.6L88.3 121.3L88.5 119.5L88.7 116.2L88.8 111.5L89 105.5L89 98.4L89 90.3L89 81.5L89 72.1L88.8 62.4L88.7 52.7L88.5 43.1L88.3 33.9L88.1 25.4L87.8 17.6L87.5 10.9L87.2 5.5M87.2 113.5L90.5 117.3L93.7 119.8L96.7 120.8L99.5 120.2L102 118.2L104.2 114.7L105.9 109.9L107.1 103.8L107.9 96.6L108.2 88.5L107.9 79.7L107.1 70.4L105.9 60.8L104.2 51.2L102 41.8L99.5 32.8L96.7 24.5L93.7 17.1L90.5 10.7L87.2 5.5M87.2 113.5L93.2 116.6L99 118.3L104.5 118.6L109.6 117.5L114.1 114.9L118 110.9L121.1 105.7L123.4 99.3L124.8 92L125.2 83.8L124.8 75.1L123.4 66L121.1 56.7L118 47.4L114.1 38.5L109.6 30.1L104.5 22.4L99 15.6L93.2 9.9L87.2 5.5M87.2 113.5L95.3 115.5L103.1 116.2L110.6 115.4L117.4 113.3L123.6 109.9L128.8 105.2L133 99.4L136.1 92.6L138 85L138.6 76.8L138 68.1L136.1 59.3L133 50.4L128.8 41.7L123.6 33.5L117.4 26L110.6 19.2L103.1 13.5L95.3 8.8L87.2 5.5M87.2 113.5L96.6 114.1L105.7 113.5L114.3 111.5L122.3 108.2L129.5 103.7L135.5 98.1L140.4 91.6L144 84.3L146.2 76.4L146.9 68.1L146.2 59.5L144 50.9L140.4 42.6L135.5 34.7L129.5 27.3L122.3 20.8L114.3 15.2L105.7 10.8L96.6 7.5L87.2 5.5M87.2 113.5L97 112.6L106.5 110.5L115.5 107.1L123.8 102.6L131.2 96.9L137.6 90.4L142.7 83.1L146.4 75.2L148.7 66.9L149.4 58.5L148.7 50L146.4 41.8L142.7 34.1L137.6 26.9L131.2 20.6L123.8 15.2L115.5 10.9L106.5 7.8L97 6L87.2 5.5M87.2 113.5L96.4 111.1L105.4 107.6L113.8 102.8L121.7 97L128.7 90.2L134.6 82.7L139.4 74.6L143 66.2L145.1 57.5L145.8 49L145.1 40.6L143 32.8L139.4 25.6L134.6 19.2L128.7 13.9L121.7 9.6L113.8 6.6L105.4 4.9L96.4 4.5L87.2 5.5M87.2 113.5L95 109.8L102.5 105L109.6 99L116.2 92L122.1 84.2L127.1 75.9L131.1 67.1L134.1 58.1L135.9 49.2L136.5 40.5L135.9 32.3L134.1 24.7L131.1 18L127.1 12.4L122.1 7.9L116.2 4.6L109.6 2.7L102.5 2.2L95 3.2L87.2 5.5M87.2 113.5L92.7 108.8L98.1 102.9L103.2 96L107.9 88.1L112.1 79.6L115.6 70.5L118.5 61.2L120.6 51.8L121.9 42.6L122.3 33.9L121.9 25.8L120.6 18.5L118.5 12.2L115.6 7L112.1 3.2L107.9 0.7L103.2 -0.3L98.1 0.2L92.7 2.1L87.2 5.5M87.2 113.5L90 108.1L92.7 101.6L95.2 94.1L97.5 85.7L99.6 76.7L101.4 67.2L102.8 57.5L103.9 47.9L104.5 38.6L104.8 29.8L104.5 21.7L103.9 14.5L102.8 8.5L101.4 3.7L99.6 0.3L97.5 -1.7L95.2 -2.1L92.7 -1.1L90 1.5L87.2 5.5M87.2 113.5L87 108L86.7 101.3L86.4 93.5L86.2 85L86 75.8L85.8 66.2L85.7 56.5L85.5 46.8L85.5 37.4L85.5 28.6L85.5 20.5L85.5 13.4L85.7 7.4L85.8 2.7L86 -0.6L86.2 -2.4L86.4 -2.7L86.7 -1.4L87 1.3L87.2 5.5M87.2 113.5L84 108.2L80.8 101.8L77.8 94.4L75 86.1L72.5 77.1L70.3 67.7L68.6 58.1L67.4 48.5L66.6 39.2L66.3 30.4L66.6 22.3L67.4 15.1L68.6 9L70.3 4.2L72.5 0.7L75 -1.3L77.8 -1.9L80.8 -0.9L84 1.6L87.2 5.5M87.2 113.5L81.3 109L75.5 103.3L70 96.5L64.9 88.8L60.4 80.4L56.5 71.5L53.4 62.2L51.1 52.9L49.7 43.8L49.2 35.1L49.7 26.9L51.1 19.6L53.4 13.2L56.5 8L60.4 4L64.9 1.4L70 0.3L75.5 0.6L81.3 2.3L87.2 5.5M87.2 113.5L79.2 110.1L71.4 105.4L63.9 99.7L57.1 92.9L50.9 85.4L45.7 77.2L41.5 68.5L38.4 59.6L36.5 50.8L35.9 42.1L36.5 33.9L38.4 26.3L41.5 19.5L45.7 13.7L50.9 9L57.1 5.6L63.9 3.5L71.4 2.7L79.2 3.4L87.2 5.5M87.2 113.5L77.9 111.4L68.8 108.1L60.2 103.7L52.2 98.1L45 91.6L39 84.2L34.1 76.3L30.5 68L28.3 59.4L27.6 50.8L28.3 42.5L30.5 34.6L34.1 27.3L39 20.8L45 15.2L52.2 10.7L60.2 7.4L68.8 5.4L77.9 4.8L87.2 5.5M87.2 113.5L77.5 112.9L68 111.1L59 108L50.7 103.7L43.3 98.3L36.9 92L31.8 84.8L28.1 77.1L25.8 68.9L25.1 60.4L25.8 52L28.1 43.7L31.8 35.8L36.9 28.5L43.3 22L50.7 16.3L59 11.8L68 8.4L77.5 6.3L87.2 5.5M87.2 113.5L78.1 114.4L69.1 114L60.7 112.3L52.8 109.3L45.8 105L39.9 99.7L35.1 93.3L31.5 86.1L29.4 78.3L28.7 69.9L29.4 61.4L31.5 52.7L35.1 44.3L39.9 36.2L45.8 28.7L52.8 21.9L60.7 16.1L69.1 11.3L78.1 7.8L87.2 5.5" fill="none" stroke="#a08c78" stroke-opacity="0.27" stroke-width="0.85" stroke-linejoin="round"/></g><g id="bk"><path d="M0 81L98.5 43.1M98.5 43.1L174.5 91.9M0 54L98.5 16.1M98.5 16.1L174.5 64.9M0 27L98.5 -10.9M98.5 -10.9L174.5 37.9M49.2 89.1L49.2 -18.9M136.5 94.5L136.5 -13.5M125.2 137.8L49.2 89.1M38 132.4L136.5 94.5" stroke="#dcdcdc" stroke-width="0.8" fill="none"/><path d="M98.5 -37.9L98.5 70.1M0 108L98.5 70.1L174.5 118.9" stroke="#1c1c1c" stroke-width="1.2" fill="none"/></g><g id="fr"><path d="M0 0L98.5 -37.9L174.5 10.9L76 48.8ZM0 0L0 108M76 48.8L76 156.8M174.5 10.9L174.5 118.9M0 108L76 156.8L174.5 118.9M0 108l-3.1 -1.5M0 81l-3.1 -1.5M0 54l-3.1 -1.5M0 27l-3.1 -1.5M0 0l-3.1 -1.5M76 156.8l-3.2 1.3M38 132.4l-3.2 1.3M0 108l-3.2 1.3M76 156.8l2.4 1.8M125.2 137.8l2.4 1.8M174.5 118.9l2.4 1.8" stroke="#333333" stroke-width="1.2" fill="none" stroke-linejoin="round"/><g font-size="11.4" fill="#2a2a2a"><text x="-5.4" y="1.3" text-anchor="end">1</text><text x="-5.4" y="28.3" text-anchor="end">0.5</text><text x="-5.4" y="55.3" text-anchor="end">0</text><text x="-5.4" y="82.3" text-anchor="end">-0.5</text><text x="-5.4" y="109.3" text-anchor="end">-1</text><text x="-8.6" y="120.8" text-anchor="middle">1</text><text x="29.2" y="145.4" text-anchor="middle">0</text><text x="64.3" y="170.1" text-anchor="middle">-1</text><text x="85.6" y="171.6" text-anchor="middle">-1</text><text x="133.5" y="152.2" text-anchor="middle">0</text><text x="182.6" y="133.8" text-anchor="middle">1</text></g><rect x="166.4" y="-30.9" width="39" height="50.6" fill="#fff" stroke="#333333" stroke-width="1.3"/><path d="M168.8 -21.7H191.4" stroke="#ff0000" stroke-width="1.9"/><circle cx="179.8" cy="-21.7" r="2.6" fill="#ff0000"/><text x="193.2" y="-19.7" font-size="10.2" font-style="italic" fill="#2a2a2a">&#963;</text><text x="199.5" y="-14.6" font-size="8.2" fill="#2a2a2a">1</text><path d="M168.8 -5.3H191.4" stroke="#0000ff" stroke-width="1.9"/><circle cx="179.8" cy="-5.3" r="2.6" fill="#0000ff"/><text x="193.2" y="-3.3" font-size="10.2" font-style="italic" fill="#2a2a2a">&#963;</text><text x="199.5" y="1.8" font-size="8.2" fill="#2a2a2a">2</text><path d="M168.8 11.4H191.4" stroke="#00ffff" stroke-width="1.9"/><circle cx="179.8" cy="11.4" r="2.6" fill="#00ffff"/><text x="193.2" y="13.4" font-size="10.2" font-style="italic" fill="#2a2a2a">&#963;</text><text x="199.5" y="18.5" font-size="8.2" fill="#2a2a2a">3</text></g><filter id="soft" x="0" y="0" width="100%" height="100%" filterUnits="userSpaceOnUse" color-interpolation-filters="sRGB"><feGaussianBlur stdDeviation="0.58"/></filter></defs>
<g filter="url(#soft)">
<rect x="0" y="0" width="685" height="929" fill="#fff"/>
<rect x="0" y="194.6" width="108.6" height="44.8" fill="#fbe1cf"/>
<rect x="537.2" y="194.6" width="148" height="48.4" fill="#fbe1cf"/>
<rect x="38.8" y="1.4" width="284.4" height="926.4" rx="48" ry="48" fill="none" stroke="#f2a36c" stroke-width="1.3" stroke-dasharray="0.9 0.55"/>
<rect x="337.8" y="1.4" width="284.8" height="926.4" rx="48" ry="48" fill="none" stroke="#f2a36c" stroke-width="1.3" stroke-dasharray="0.9 0.55"/>
<text x="6.1" y="219.7" font-size="25" font-weight="bold" fill="#000" textLength="89.8" lengthAdjust="spacingAndGlyphs">Simulate</text>
<text x="544.2" y="219.5" font-size="24.2" font-weight="bold" fill="#000" textLength="119.8" lengthAdjust="spacingAndGlyphs">Experiment</text>
<use href="#bk" x="91" y="57"/>
<use href="#sph" x="91" y="57"/>
<path d="M178.2 116.5L141 91" stroke="#3cc4b4" stroke-width="1.7" fill="none" stroke-linejoin="round" stroke-dasharray="7.6 4.4" stroke-dashoffset="3.2" opacity="0.8"/><path d="M178.2 116.5L178.2 63" stroke="#ea3a30" stroke-width="1.65" fill="none" stroke-linejoin="round" stroke-dasharray="7.6 4.4" stroke-dashoffset="2.6"/><path d="M178.2 116.5L224.4 100.2" stroke="#5a3dd0" stroke-width="1.65" fill="none" stroke-linejoin="round" stroke-dasharray="7.6 4.4" stroke-dashoffset="3.2"/><path d="M141.6 80.5L141.6 84L141.6 88L141.6 92.5" stroke="#3fbfb2" stroke-width="3.4" fill="none" stroke-linejoin="round" stroke-linecap="round"/><circle cx="141.6" cy="80.5" r="2.1" fill="#3fbfb2"/><circle cx="141.6" cy="84" r="2.1" fill="#3fbfb2"/><circle cx="141.6" cy="88" r="2.1" fill="#3fbfb2"/><circle cx="141.6" cy="92.5" r="2.1" fill="#3fbfb2"/><path d="M142.2 93L143.3 95.4L145.7 110.2L148.7 126.8L150.4 135.7" stroke="#36d8c2" stroke-width="2.3" fill="none" stroke-linejoin="round" stroke-linecap="round" opacity="0.85"/><path d="M150.4 135.7L153.5 141L157 145.7L160 152L162.9 157.6L168.5 161.6L174.7 164.7L179.5 169L184.2 173L190.7 174.7" stroke="#10f4e6" stroke-width="3.3" fill="none" stroke-linejoin="round" stroke-linecap="round"/><circle cx="150.4" cy="135.7" r="2.3" fill="#10f4e6"/><circle cx="157" cy="145.7" r="2.3" fill="#10f4e6"/><circle cx="162.9" cy="157.6" r="2.3" fill="#10f4e6"/><circle cx="168.5" cy="161.6" r="2.3" fill="#10f4e6"/><circle cx="174.7" cy="164.7" r="2.3" fill="#10f4e6"/><circle cx="184.2" cy="173" r="2.3" fill="#10f4e6"/><circle cx="190.7" cy="174.7" r="2.3" fill="#10f4e6"/><path d="M178.2 62.6L181 64L184 65.6L188.2 68" stroke="#ff0000" stroke-width="3.6" fill="none" stroke-linejoin="round" stroke-linecap="round"/><circle cx="178.2" cy="62.6" r="2.3" fill="#ff0000"/><circle cx="181" cy="64" r="2.3" fill="#ff0000"/><circle cx="184" cy="65.6" r="2.3" fill="#ff0000"/><circle cx="188.2" cy="68" r="2.3" fill="#ff0000"/><path d="M188.2 68L209.4 92.4L227.6 96.2" stroke="#ff0000" stroke-width="2.1" fill="none" stroke-linejoin="round" stroke-linecap="round"/><circle cx="209.4" cy="92.4" r="2.6" fill="#ff0000"/><circle cx="227.6" cy="96.2" r="2.6" fill="#ff0000"/><path d="M227.2 98L224.2 100" stroke="#3a22c4" stroke-width="2.2" fill="none" stroke-linejoin="round" stroke-linecap="round"/><circle cx="227.2" cy="98" r="2.2" fill="#3a22c4"/><circle cx="224.2" cy="100" r="2.2" fill="#3a22c4"/><path d="M224.2 100L212 121" stroke="#3a22c4" stroke-width="2.0" fill="none" stroke-linejoin="round" stroke-linecap="round"/><path d="M212 121L213.4 125.4L215 134L216 144" stroke="#0000ff" stroke-width="2.0" fill="none" stroke-linejoin="round" stroke-linecap="round"/><circle cx="212" cy="121" r="2.3" fill="#0000ff"/><circle cx="213.4" cy="125.4" r="2.3" fill="#0000ff"/><circle cx="215" cy="134" r="2.3" fill="#0000ff"/><circle cx="216" cy="144" r="2.3" fill="#0000ff"/><path d="M216 144L215.6 150L214.6 156L213.2 162L210.4 166.4L207.8 169" stroke="#0000ff" stroke-width="3.4" fill="none" stroke-linejoin="round" stroke-linecap="round"/><circle cx="216" cy="144" r="2.3" fill="#0000ff"/><circle cx="215.6" cy="150" r="2.3" fill="#0000ff"/><circle cx="214.6" cy="156" r="2.3" fill="#0000ff"/><circle cx="213.2" cy="162" r="2.3" fill="#0000ff"/><circle cx="210.4" cy="166.4" r="2.3" fill="#0000ff"/><circle cx="207.8" cy="169" r="2.3" fill="#0000ff"/>
<use href="#fr" x="91" y="57"/>
<g font-size="11.4" fill="#2a2a2a" text-anchor="middle"><text x="220.3" y="231.7">x</text><text x="118.8" y="228.6">y</text><text transform="translate(61.2 111) rotate(-90)">z</text></g>
<text x="67.6" y="28.8" font-size="13.4" font-weight="bold" fill="#000">(a)</text>
<use href="#bk" x="91" y="287"/>
<use href="#sph" x="91" y="287"/>
<path d="M178.2 346.4L140.2 322.1" stroke="#3cc4b4" stroke-width="1.7" fill="none" stroke-linejoin="round" stroke-dasharray="7.6 4.4" stroke-dashoffset="3.2" opacity="0.8"/><path d="M178.2 346.4L178.5 293.5" stroke="#ea3a30" stroke-width="1.65" fill="none" stroke-linejoin="round" stroke-dasharray="7.6 4.4" stroke-dashoffset="2.6"/><path d="M178.2 346.4L227.5 327.8" stroke="#5a3dd0" stroke-width="1.65" fill="none" stroke-linejoin="round" stroke-dasharray="7.6 4.4" stroke-dashoffset="3.2"/><path d="M140.2 322.1L145 320L151.9 318.4L163 316.8L175.4 316L188 317L199.9 319L210 321.8L220.4 325.2L227.5 327.8" stroke="#3fbfb2" stroke-width="2.1" fill="none" stroke-linejoin="round" stroke-linecap="round"/><circle cx="140.2" cy="322.1" r="2.0" fill="#3fbfb2"/><circle cx="151.9" cy="318.4" r="2.0" fill="#3fbfb2"/><circle cx="175.4" cy="316" r="2.0" fill="#3fbfb2"/><circle cx="199.9" cy="319" r="2.0" fill="#3fbfb2"/><circle cx="220.4" cy="325.2" r="2.0" fill="#3fbfb2"/><path d="M177.6 292L181.2 292" stroke="#ff0000" stroke-width="3.6" fill="none" stroke-linejoin="round" stroke-linecap="round"/><path d="M227.5 327.8L231.5 331.2L234.7 335.4" stroke="#3a22c4" stroke-width="2.0" fill="none" stroke-linejoin="round" stroke-linecap="round"/><circle cx="227.5" cy="327.8" r="2.1" fill="#3a22c4"/><circle cx="234.7" cy="335.4" r="2.1" fill="#3a22c4"/><path d="M234.7 335.4L240.8 347.7L236.7 359.3L224.9 368.7L214.6 372.8L204.4 375.7" stroke="#0000ff" stroke-width="2.0" fill="none" stroke-linejoin="round" stroke-linecap="round"/><circle cx="240.8" cy="347.7" r="2.4" fill="#0000ff"/><circle cx="236.7" cy="359.3" r="2.4" fill="#0000ff"/><circle cx="224.9" cy="368.7" r="2.4" fill="#0000ff"/><circle cx="214.6" cy="372.8" r="2.4" fill="#0000ff"/><circle cx="204.4" cy="375.7" r="2.4" fill="#0000ff"/>
<use href="#fr" x="91" y="287"/>
<g font-size="13.2" fill="#2a2a2a" text-anchor="middle"><text x="219.8" y="462.6">x</text><text x="118.7" y="459.5">y</text><text transform="translate(61.5 341.1) rotate(-90)">z</text></g>
<text x="67.6" y="266.3" font-size="13.4" font-weight="bold" fill="#000">(b)</text>
<use href="#bk" x="91" y="512.6"/>
<use href="#sph" x="91" y="512.6"/>
<path d="M178.2 572.1L139.6 548" stroke="#3cc4b4" stroke-width="1.7" fill="none" stroke-linejoin="round" stroke-dasharray="7.6 4.4" stroke-dashoffset="3.2" opacity="0.8"/><path d="M178.2 572.1L178.6 520" stroke="#ea3a30" stroke-width="1.65" fill="none" stroke-linejoin="round" stroke-dasharray="7.6 4.4" stroke-dashoffset="2.6"/><path d="M178.2 572.1L226 555" stroke="#5a3dd0" stroke-width="1.65" fill="none" stroke-linejoin="round" stroke-dasharray="7.6 4.4" stroke-dashoffset="3.2"/><path d="M158 530L154 533.6L150 537L146 541L142.6 544.6L139.6 548" stroke="#3fbfb2" stroke-width="3.6" fill="none" stroke-linejoin="round" stroke-linecap="round"/><circle cx="158" cy="530" r="2.2" fill="#3fbfb2"/><circle cx="154" cy="533.6" r="2.2" fill="#3fbfb2"/><circle cx="150" cy="537" r="2.2" fill="#3fbfb2"/><circle cx="146" cy="541" r="2.2" fill="#3fbfb2"/><circle cx="142.6" cy="544.6" r="2.2" fill="#3fbfb2"/><circle cx="139.6" cy="548" r="2.2" fill="#3fbfb2"/><path d="M178.6 518.6L176 522L172 525.4L168.4 528L163 532.6L158 536L154 538.6L150 540" stroke="#ff0000" stroke-width="3.2" fill="none" stroke-linejoin="round" stroke-linecap="round"/><circle cx="178.6" cy="518.6" r="2.6" fill="#ff0000"/><circle cx="176" cy="522" r="2.6" fill="#ff0000"/><circle cx="172" cy="525.4" r="2.6" fill="#ff0000"/><circle cx="168.4" cy="528" r="2.6" fill="#ff0000"/><circle cx="163" cy="532.6" r="2.6" fill="#ff0000"/><circle cx="158" cy="536" r="2.6" fill="#ff0000"/><circle cx="154" cy="538.6" r="2.6" fill="#ff0000"/><circle cx="150" cy="540" r="2.6" fill="#ff0000"/><path d="M233 543L230 549L226 554.6" stroke="#3a22c4" stroke-width="3.4" fill="none" stroke-linejoin="round" stroke-linecap="round"/><circle cx="233" cy="543" r="2.0" fill="#3a22c4"/><circle cx="230" cy="549" r="2.0" fill="#3a22c4"/><circle cx="226" cy="554.6" r="2.0" fill="#3a22c4"/><path d="M218 524.6L222 528.6L226 533L229.6 537.6L233 542" stroke="#0000ff" stroke-width="3.4" fill="none" stroke-linejoin="round" stroke-linecap="round"/><circle cx="218" cy="524.6" r="2.4" fill="#0000ff"/><circle cx="222" cy="528.6" r="2.4" fill="#0000ff"/><circle cx="226" cy="533" r="2.4" fill="#0000ff"/><circle cx="229.6" cy="537.6" r="2.4" fill="#0000ff"/><circle cx="233" cy="542" r="2.4" fill="#0000ff"/>
<use href="#fr" x="91" y="512.6"/>
<g font-size="13.2" fill="#2a2a2a" text-anchor="middle"><text x="219.8" y="688.2">x</text><text x="118.7" y="685.1">y</text><text transform="translate(61.5 566.7) rotate(-90)">z</text></g>
<text x="67.6" y="486" font-size="13.4" font-weight="bold" fill="#000">(c)</text>
<use href="#bk" x="91" y="744.6"/>
<use href="#sph" x="91" y="744.6"/>
<path d="M178.2 804.1L141 781" stroke="#3cc4b4" stroke-width="1.7" fill="none" stroke-linejoin="round" stroke-dasharray="7.6 4.4" stroke-dashoffset="3.2" opacity="0.8"/><path d="M178.2 804.1L178.4 751.4" stroke="#ea3a30" stroke-width="1.65" fill="none" stroke-linejoin="round" stroke-dasharray="7.6 4.4" stroke-dashoffset="2.6"/><path d="M178.2 804.1L226.4 787.6" stroke="#5a3dd0" stroke-width="1.65" fill="none" stroke-linejoin="round" stroke-dasharray="7.6 4.4" stroke-dashoffset="3.2"/><path d="M141.2 778L141.3 782L141.4 786L141.5 789L141.6 792" stroke="#3fbfb2" stroke-width="3.4" fill="none" stroke-linejoin="round" stroke-linecap="round"/><circle cx="141.2" cy="778" r="2.1" fill="#3fbfb2"/><circle cx="141.3" cy="782" r="2.1" fill="#3fbfb2"/><circle cx="141.4" cy="786" r="2.1" fill="#3fbfb2"/><circle cx="141.5" cy="789" r="2.1" fill="#3fbfb2"/><circle cx="141.6" cy="792" r="2.1" fill="#3fbfb2"/><path d="M141.8 792L142.8 794.3L145.1 807.3L148.7 822.7" stroke="#36d8c2" stroke-width="2.2" fill="none" stroke-linejoin="round" stroke-linecap="round" opacity="0.85"/><path d="M148.7 822.7L154.6 833.4L162.9 847.6L170.6 854.7L177 860" stroke="#14f0e0" stroke-width="2.5" fill="none" stroke-linejoin="round" stroke-linecap="round"/><circle cx="148.7" cy="822.7" r="2.2" fill="#14f0e0"/><circle cx="162.9" cy="847.6" r="2.2" fill="#14f0e0"/><circle cx="170.6" cy="854.7" r="2.2" fill="#14f0e0"/><circle cx="177" cy="860" r="2.2" fill="#14f0e0"/><path d="M177 860L181.6 862.2L186.5 863.6L191 864.3L195.4 864.7" stroke="#10f4e8" stroke-width="3.6" fill="none" stroke-linejoin="round" stroke-linecap="round"/><circle cx="177" cy="860" r="2.3" fill="#10f4e8"/><circle cx="181.6" cy="862.2" r="2.3" fill="#10f4e8"/><circle cx="186.5" cy="863.6" r="2.3" fill="#10f4e8"/><circle cx="191" cy="864.3" r="2.3" fill="#10f4e8"/><circle cx="195.4" cy="864.7" r="2.3" fill="#10f4e8"/><path d="M168 747.6L172 748.6L176 749.8L180 751" stroke="#ff0000" stroke-width="3.6" fill="none" stroke-linejoin="round" stroke-linecap="round"/><circle cx="168" cy="747.6" r="2.3" fill="#ff0000"/><circle cx="172" cy="748.6" r="2.3" fill="#ff0000"/><circle cx="176" cy="749.8" r="2.3" fill="#ff0000"/><circle cx="180" cy="751" r="2.3" fill="#ff0000"/><path d="M168 747.6L143 754L228 788.4" stroke="#ff0000" stroke-width="2.1" fill="none" stroke-linejoin="round" stroke-linecap="round"/><circle cx="143" cy="754" r="2.6" fill="#ff0000"/><circle cx="228" cy="788.4" r="2.6" fill="#ff0000"/><path d="M228 785L220 774L216.4 800" stroke="#3a22c4" stroke-width="2.0" fill="none" stroke-linejoin="round" stroke-linecap="round"/><circle cx="228" cy="785" r="2.2" fill="#3a22c4"/><circle cx="220" cy="774" r="2.2" fill="#3a22c4"/><path d="M216.4 800L214 837L212 846" stroke="#0000ff" stroke-width="2.0" fill="none" stroke-linejoin="round" stroke-linecap="round"/><circle cx="214" cy="837" r="2.5" fill="#0000ff"/><circle cx="212" cy="846" r="2.5" fill="#0000ff"/><path d="M212 800L213 806L214 812L215 818L216 823L217 828" stroke="#0000ff" stroke-width="3.4" fill="none" stroke-linejoin="round" stroke-linecap="round"/><circle cx="212" cy="800" r="2.3" fill="#0000ff"/><circle cx="213" cy="806" r="2.3" fill="#0000ff"/><circle cx="214" cy="812" r="2.3" fill="#0000ff"/><circle cx="215" cy="818" r="2.3" fill="#0000ff"/><circle cx="216" cy="823" r="2.3" fill="#0000ff"/><circle cx="217" cy="828" r="2.3" fill="#0000ff"/>
<use href="#fr" x="91" y="744.6"/>
<g font-size="13.2" fill="#2a2a2a" text-anchor="middle"><text x="219.8" y="920.2">x</text><text x="118.7" y="917.1">y</text><text transform="translate(61.5 798.7) rotate(-90)">z</text></g>
<text x="67.6" y="718.3" font-size="13.4" font-weight="bold" fill="#000">(d)</text>
<use href="#bk" x="385.4" y="52"/>
<use href="#sph" x="385.4" y="52"/>
<path d="M472.6 111.5L437 88.6" stroke="#3cc4b4" stroke-width="1.7" fill="none" stroke-linejoin="round" stroke-dasharray="7.6 4.4" stroke-dashoffset="3.2" opacity="0.8"/><path d="M472.6 111.5L472.2 65" stroke="#ea3a30" stroke-width="1.65" fill="none" stroke-linejoin="round" stroke-dasharray="7.6 4.4" stroke-dashoffset="2.6"/><path d="M472.6 111.5L522 93" stroke="#5a3dd0" stroke-width="1.65" fill="none" stroke-linejoin="round" stroke-dasharray="7.6 4.4" stroke-dashoffset="3.2"/><path d="M417.6 107.4L417.6 112L417.6 117L417.6 123" stroke="#2fe6cf" stroke-width="3.2" fill="none" stroke-linejoin="round" stroke-linecap="round" opacity="0.8"/><circle cx="417.6" cy="107.4" r="2.1" fill="#2fe6cf" opacity="0.8"/><circle cx="417.6" cy="112" r="2.1" fill="#2fe6cf" opacity="0.8"/><circle cx="417.6" cy="117" r="2.1" fill="#2fe6cf" opacity="0.8"/><circle cx="417.6" cy="123" r="2.1" fill="#2fe6cf" opacity="0.8"/><path d="M417.6 123L421.6 154" stroke="#00ffff" stroke-width="1.9" fill="none" stroke-linejoin="round" stroke-linecap="round" opacity="0.85"/><path d="M421.6 154L465 165.8L482.5 169.8L490.5 172.3L497.6 174.2" stroke="#0cf2ee" stroke-width="1.9" fill="none" stroke-linejoin="round" stroke-linecap="round"/><circle cx="421.6" cy="154" r="2.4" fill="#0cf2ee"/><path d="M490.5 172.3L497.4 174.1" stroke="#00ffff" stroke-width="4.4" fill="none" stroke-linejoin="round" stroke-linecap="round"/><path d="M471 64L474 66L477 68L480 70" stroke="#ff0000" stroke-width="3.8" fill="none" stroke-linejoin="round" stroke-linecap="round"/><circle cx="471" cy="64" r="2.4" fill="#ff0000"/><circle cx="474" cy="66" r="2.4" fill="#ff0000"/><circle cx="477" cy="68" r="2.4" fill="#ff0000"/><circle cx="480" cy="70" r="2.4" fill="#ff0000"/><path d="M480 70L502 94L503 88.6L499 79.6" stroke="#ff0000" stroke-width="2.1" fill="none" stroke-linejoin="round" stroke-linecap="round"/><circle cx="502" cy="94" r="2.4" fill="#ff0000"/><circle cx="503" cy="88.6" r="2.4" fill="#ff0000"/><circle cx="499" cy="79.6" r="2.4" fill="#ff0000"/><path d="M522.4 101.6L519.4 102.4" stroke="#3a22c4" stroke-width="2.0" fill="none" stroke-linejoin="round" stroke-linecap="round"/><circle cx="522.4" cy="101.6" r="2.3" fill="#3a22c4"/><circle cx="519.4" cy="102.4" r="2.3" fill="#3a22c4"/><path d="M520 102.4L508 122" stroke="#3a22c4" stroke-width="2.0" fill="none" stroke-linejoin="round" stroke-linecap="round"/><path d="M508 122L496.4 143.1L495.6 147L494.6 151.6" stroke="#0000ff" stroke-width="2.0" fill="none" stroke-linejoin="round" stroke-linecap="round"/><circle cx="496.4" cy="143.1" r="2.5" fill="#0000ff"/><circle cx="496" cy="145" r="2.5" fill="#0000ff"/><circle cx="495.6" cy="147.4" r="2.5" fill="#0000ff"/><circle cx="495" cy="149.6" r="2.5" fill="#0000ff"/><circle cx="494.6" cy="151.6" r="2.5" fill="#0000ff"/><path d="M494.6 151.6L502.6 148.6" stroke="#0000ff" stroke-width="2.0" fill="none" stroke-linejoin="round" stroke-linecap="round"/><circle cx="502.6" cy="148.6" r="2.5" fill="#0000ff"/><path d="M474.1 158.1L494.6 151.6L481.4 161.4L500.4 158.1L494.6 151.6" stroke="#0000ff" stroke-width="2.0" fill="none" stroke-linejoin="round" stroke-linecap="round"/><circle cx="474.1" cy="158.1" r="2.5" fill="#0000ff"/><circle cx="481.4" cy="161.4" r="2.5" fill="#0000ff"/><circle cx="500.4" cy="158.1" r="2.5" fill="#0000ff"/><circle cx="499.3" cy="160.7" r="2.5" fill="#0000ff"/><path d="M500.4 158.1L482.5 169.8L494.9 167.6L499.3 160.7" stroke="#0000ff" stroke-width="2.0" fill="none" stroke-linejoin="round" stroke-linecap="round"/><circle cx="482.5" cy="169.8" r="2.5" fill="#0000ff"/><circle cx="494.9" cy="167.6" r="2.5" fill="#0000ff"/>
<use href="#fr" x="385.4" y="52"/>
<g font-size="13.2" fill="#2a2a2a" text-anchor="middle"><text x="514.2" y="227.6">x</text><text x="413.1" y="224.5">y</text><text transform="translate(355.9 106.1) rotate(-90)">z</text></g>
<text x="361.6" y="28.3" font-size="13.4" font-weight="bold" fill="#000">(e)</text>
<use href="#bk" x="389.6" y="287"/>
<use href="#sph" x="389.6" y="287"/>
<path d="M476.9 346.4L442 325" stroke="#3cc4b4" stroke-width="1.7" fill="none" stroke-linejoin="round" stroke-dasharray="7.6 4.4" stroke-dashoffset="3.2" opacity="0.8"/><path d="M476.9 346.4L477.2 295" stroke="#ea3a30" stroke-width="1.65" fill="none" stroke-linejoin="round" stroke-dasharray="7.6 4.4" stroke-dashoffset="2.6"/><path d="M476.9 346.4L528 329" stroke="#5a3dd0" stroke-width="1.65" fill="none" stroke-linejoin="round" stroke-dasharray="7.6 4.4" stroke-dashoffset="3.2"/><path d="M465 307L463 316L461 323L459 324L455 317L448 323L442 325" stroke="#3fbfb2" stroke-width="3.0" fill="none" stroke-linejoin="round" stroke-linecap="round"/><circle cx="465" cy="307" r="2.0" fill="#3fbfb2"/><circle cx="463" cy="316" r="2.0" fill="#3fbfb2"/><circle cx="461" cy="323" r="2.0" fill="#3fbfb2"/><circle cx="459" cy="324" r="2.0" fill="#3fbfb2"/><circle cx="455" cy="317" r="2.0" fill="#3fbfb2"/><circle cx="448" cy="323" r="2.0" fill="#3fbfb2"/><circle cx="442" cy="325" r="2.0" fill="#3fbfb2"/><path d="M477.4 293.6L474.6 296.6L471 298.6L467.6 302L462 307.4L460.4 314.6L445 332L435 329.4" stroke="#ff0000" stroke-width="2.1" fill="none" stroke-linejoin="round" stroke-linecap="round"/><circle cx="477.4" cy="293.6" r="2.6" fill="#ff0000"/><circle cx="474.6" cy="296.6" r="2.6" fill="#ff0000"/><circle cx="471" cy="298.6" r="2.6" fill="#ff0000"/><circle cx="467.6" cy="302" r="2.6" fill="#ff0000"/><circle cx="462" cy="307.4" r="2.6" fill="#ff0000"/><circle cx="460.4" cy="314.6" r="2.6" fill="#ff0000"/><circle cx="445" cy="332" r="2.6" fill="#ff0000"/><circle cx="435" cy="329.4" r="2.6" fill="#ff0000"/><path d="M477.4 293.6L476 295" stroke="#ff0000" stroke-width="3.8" fill="none" stroke-linejoin="round" stroke-linecap="round"/><path d="M526 336L528 332.6L530 329.6" stroke="#3a22c4" stroke-width="3.6" fill="none" stroke-linejoin="round" stroke-linecap="round"/><circle cx="526" cy="336" r="2.0" fill="#3a22c4"/><circle cx="528" cy="332.6" r="2.0" fill="#3a22c4"/><circle cx="530" cy="329.6" r="2.0" fill="#3a22c4"/><path d="M534 330.8L537 329L540 327L538 325.6" stroke="#0000ff" stroke-width="3.6" fill="none" stroke-linejoin="round" stroke-linecap="round"/><circle cx="534" cy="330.8" r="2.4" fill="#0000ff"/><circle cx="537" cy="329" r="2.4" fill="#0000ff"/><circle cx="540" cy="327" r="2.4" fill="#0000ff"/><circle cx="538" cy="325.6" r="2.4" fill="#0000ff"/>
<use href="#fr" x="389.6" y="287"/>
<g font-size="13.2" fill="#2a2a2a" text-anchor="middle"><text x="518.4" y="462.6">x</text><text x="417.3" y="459.5">y</text><text transform="translate(360.1 341.1) rotate(-90)">z</text></g>
<text x="361.6" y="266.3" font-size="13.4" font-weight="bold" fill="#000">(f)</text>
<use href="#bk" x="389.6" y="512.6"/>
<use href="#sph" x="389.6" y="512.6"/>
<path d="M476.9 572.1L438 548.6" stroke="#3cc4b4" stroke-width="1.7" fill="none" stroke-linejoin="round" stroke-dasharray="7.6 4.4" stroke-dashoffset="3.2" opacity="0.8"/><path d="M476.9 572.1L477 521" stroke="#ea3a30" stroke-width="1.65" fill="none" stroke-linejoin="round" stroke-dasharray="7.6 4.4" stroke-dashoffset="2.6"/><path d="M476.9 572.1L526 554" stroke="#5a3dd0" stroke-width="1.65" fill="none" stroke-linejoin="round" stroke-dasharray="7.6 4.4" stroke-dashoffset="3.2"/><path d="M438 548.6L450 552L474 562L499 561L518 561L517 569L528 572.6" stroke="#3fbfb2" stroke-width="2.2" fill="none" stroke-linejoin="round" stroke-linecap="round"/><circle cx="438" cy="548.6" r="2.2" fill="#3fbfb2"/><circle cx="474" cy="562" r="2.2" fill="#3fbfb2"/><circle cx="499" cy="561" r="2.2" fill="#3fbfb2"/><circle cx="518" cy="561" r="2.2" fill="#3fbfb2"/><circle cx="517" cy="569" r="2.2" fill="#3fbfb2"/><circle cx="528" cy="572.6" r="2.2" fill="#3fbfb2"/><path d="M476.4 517.8L480 517.8" stroke="#ff0000" stroke-width="3.6" fill="none" stroke-linejoin="round" stroke-linecap="round"/><path d="M476.4 521L461.6 532.6L456 536L452 539L447 546" stroke="#ff0000" stroke-width="2.1" fill="none" stroke-linejoin="round" stroke-linecap="round"/><circle cx="461.6" cy="532.6" r="2.5" fill="#ff0000"/><circle cx="456" cy="536" r="2.5" fill="#ff0000"/><circle cx="452" cy="539" r="2.5" fill="#ff0000"/><circle cx="447" cy="546" r="2.5" fill="#ff0000"/><path d="M526 554L533 567L536 579" stroke="#3a22c4" stroke-width="2.0" fill="none" stroke-linejoin="round" stroke-linecap="round"/><circle cx="526" cy="554" r="2.2" fill="#3a22c4"/><circle cx="533" cy="567" r="2.2" fill="#3a22c4"/><path d="M536 579L539 591L535 601L523.6 605.4L513 609.6L499.4 609.6" stroke="#0000ff" stroke-width="2.0" fill="none" stroke-linejoin="round" stroke-linecap="round"/><circle cx="539" cy="591" r="2.4" fill="#0000ff"/><circle cx="535" cy="601" r="2.4" fill="#0000ff"/><circle cx="523.6" cy="605.4" r="2.4" fill="#0000ff"/><circle cx="513" cy="609.6" r="2.4" fill="#0000ff"/><circle cx="499.4" cy="609.6" r="2.4" fill="#0000ff"/>
<use href="#fr" x="389.6" y="512.6"/>
<g font-size="13.2" fill="#2a2a2a" text-anchor="middle"><text x="518.4" y="688.2">x</text><text x="417.3" y="685.1">y</text><text transform="translate(360.1 566.7) rotate(-90)">z</text></g>
<text x="361.6" y="485.6" font-size="13.4" font-weight="bold" fill="#000">(g)</text>
<use href="#bk" x="389.6" y="744.6"/>
<use href="#sph" x="389.6" y="744.6"/>
<path d="M476.9 804.1L441 781" stroke="#3cc4b4" stroke-width="1.7" fill="none" stroke-linejoin="round" stroke-dasharray="7.6 4.4" stroke-dashoffset="3.2" opacity="0.8"/><path d="M476.9 804.1L476.4 758" stroke="#ea3a30" stroke-width="1.65" fill="none" stroke-linejoin="round" stroke-dasharray="7.6 4.4" stroke-dashoffset="2.6"/><path d="M476.9 804.1L526 786" stroke="#5a3dd0" stroke-width="1.65" fill="none" stroke-linejoin="round" stroke-dasharray="7.6 4.4" stroke-dashoffset="3.2"/><path d="M421.6 800.4L421.8 805L422 810L422 815" stroke="#2fe6cf" stroke-width="3.2" fill="none" stroke-linejoin="round" stroke-linecap="round" opacity="0.8"/><circle cx="421.6" cy="800.4" r="2.1" fill="#2fe6cf" opacity="0.8"/><circle cx="421.8" cy="805" r="2.1" fill="#2fe6cf" opacity="0.8"/><circle cx="422" cy="810" r="2.1" fill="#2fe6cf" opacity="0.8"/><circle cx="422" cy="815" r="2.1" fill="#2fe6cf" opacity="0.8"/><path d="M422 815L426 848" stroke="#00ffff" stroke-width="1.9" fill="none" stroke-linejoin="round" stroke-linecap="round" opacity="0.85"/><path d="M426 848L470 858.6L486.9 862.7L494.2 861.8L502 866.6" stroke="#0cf2ee" stroke-width="1.9" fill="none" stroke-linejoin="round" stroke-linecap="round"/><circle cx="426" cy="848" r="2.4" fill="#0cf2ee"/><path d="M494.4 862L502 866.6" stroke="#00ffff" stroke-width="4.4" fill="none" stroke-linejoin="round" stroke-linecap="round"/><path d="M475 757L478 759L482 761L485 763" stroke="#ff0000" stroke-width="3.8" fill="none" stroke-linejoin="round" stroke-linecap="round"/><circle cx="475" cy="757" r="2.4" fill="#ff0000"/><circle cx="478" cy="759" r="2.4" fill="#ff0000"/><circle cx="482" cy="761" r="2.4" fill="#ff0000"/><circle cx="485" cy="763" r="2.4" fill="#ff0000"/><path d="M485 763L506 786.6L507 781L503 772.4" stroke="#ff0000" stroke-width="2.1" fill="none" stroke-linejoin="round" stroke-linecap="round"/><circle cx="506" cy="786.6" r="2.4" fill="#ff0000"/><circle cx="507" cy="781" r="2.4" fill="#ff0000"/><circle cx="503" cy="772.4" r="2.4" fill="#ff0000"/><path d="M526.4 794L513 816" stroke="#3a22c4" stroke-width="2.0" fill="none" stroke-linejoin="round" stroke-linecap="round"/><circle cx="526.4" cy="794" r="2.4" fill="#3a22c4"/><path d="M513 816L500.8 835.7L499.4 838.4L497.8 841.2L499.3 843.7" stroke="#0000ff" stroke-width="2.0" fill="none" stroke-linejoin="round" stroke-linecap="round"/><circle cx="500.8" cy="835.7" r="2.5" fill="#0000ff"/><circle cx="499.4" cy="838.4" r="2.5" fill="#0000ff"/><circle cx="497.8" cy="841.2" r="2.5" fill="#0000ff"/><circle cx="499.3" cy="843.7" r="2.5" fill="#0000ff"/><path d="M507 841.5L499.3 843.7L478.5 851" stroke="#0000ff" stroke-width="2.0" fill="none" stroke-linejoin="round" stroke-linecap="round"/><circle cx="507" cy="841.5" r="2.5" fill="#0000ff"/><circle cx="478.5" cy="851" r="2.5" fill="#0000ff"/><path d="M499.3 843.7L504.8 851.4L486.9 862.7" stroke="#0000ff" stroke-width="2.0" fill="none" stroke-linejoin="round" stroke-linecap="round"/><circle cx="504.8" cy="851.4" r="2.5" fill="#0000ff"/><circle cx="486.9" cy="862.7" r="2.5" fill="#0000ff"/>
<use href="#fr" x="389.6" y="744.6"/>
<g font-size="13.2" fill="#2a2a2a" text-anchor="middle"><text x="518.4" y="920.2">x</text><text x="417.3" y="917.1">y</text><text transform="translate(360.1 798.7) rotate(-90)">z</text></g>
<text x="361.6" y="718.3" font-size="13.4" font-weight="bold" fill="#000">(h)</text>
</g>
</svg>
</body></html>
